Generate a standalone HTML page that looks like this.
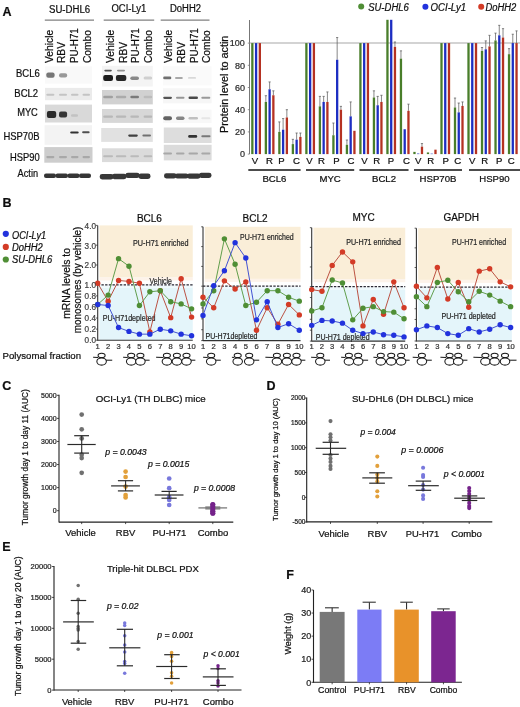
<!DOCTYPE html>
<html><head><meta charset="utf-8"><style>
html,body{margin:0;padding:0;background:#fff;}
svg{display:block;}
text{font-family:"Liberation Sans", sans-serif;}
</style></head><body>
<svg width="520" height="707" viewBox="0 0 520 707">
<defs><filter id="soft" x="0" y="0" width="100%" height="100%"><feGaussianBlur stdDeviation="0.3"/></filter><filter id="bl" x="-20%" y="-60%" width="140%" height="220%"><feGaussianBlur stdDeviation="0.6"/></filter></defs>
<rect width="520" height="707" fill="#fff"/>
<g filter="url(#soft)">
<text x="2.60" y="15.80" font-size="12.5" fill="#111" stroke="#111" stroke-width="0.22" font-weight="bold">A</text>
<text x="49.00" y="12.60" font-size="10" fill="#111" stroke="#111" stroke-width="0.22" textLength="41.20" lengthAdjust="spacingAndGlyphs">SU-DHL6</text>
<text x="111.40" y="12.20" font-size="10" fill="#111" stroke="#111" stroke-width="0.22" textLength="35.00" lengthAdjust="spacingAndGlyphs">OCI-Ly1</text>
<text x="170.00" y="11.90" font-size="10" fill="#111" stroke="#111" stroke-width="0.22" textLength="31.00" lengthAdjust="spacingAndGlyphs">DoHH2</text>
<line x1="44.80" y1="20.10" x2="94.00" y2="20.10" stroke="#808080" stroke-width="1.3"/>
<line x1="103.70" y1="20.20" x2="154.20" y2="20.20" stroke="#808080" stroke-width="1.3"/>
<line x1="160.70" y1="20.20" x2="209.50" y2="20.20" stroke="#808080" stroke-width="1.3"/>
<text x="52.50" y="63.00" font-size="10" fill="#111" stroke="#111" stroke-width="0.22" textLength="33.20" lengthAdjust="spacingAndGlyphs" transform="rotate(-90 52.50 63.00)">Vehicle</text>
<text x="64.80" y="63.00" font-size="10" fill="#111" stroke="#111" stroke-width="0.22" textLength="21.00" lengthAdjust="spacingAndGlyphs" transform="rotate(-90 64.80 63.00)">RBV</text>
<text x="77.50" y="63.00" font-size="10" fill="#111" stroke="#111" stroke-width="0.22" textLength="34.80" lengthAdjust="spacingAndGlyphs" transform="rotate(-90 77.50 63.00)">PU-H71</text>
<text x="90.80" y="63.00" font-size="10" fill="#111" stroke="#111" stroke-width="0.22" textLength="32.80" lengthAdjust="spacingAndGlyphs" transform="rotate(-90 90.80 63.00)">Combo</text>
<text x="113.80" y="63.00" font-size="10" fill="#111" stroke="#111" stroke-width="0.22" textLength="33.20" lengthAdjust="spacingAndGlyphs" transform="rotate(-90 113.80 63.00)">Vehicle</text>
<text x="127.00" y="63.00" font-size="10" fill="#111" stroke="#111" stroke-width="0.22" textLength="21.00" lengthAdjust="spacingAndGlyphs" transform="rotate(-90 127.00 63.00)">RBV</text>
<text x="139.40" y="63.00" font-size="10" fill="#111" stroke="#111" stroke-width="0.22" textLength="34.80" lengthAdjust="spacingAndGlyphs" transform="rotate(-90 139.40 63.00)">PU-H71</text>
<text x="152.00" y="63.00" font-size="10" fill="#111" stroke="#111" stroke-width="0.22" textLength="32.80" lengthAdjust="spacingAndGlyphs" transform="rotate(-90 152.00 63.00)">Combo</text>
<text x="172.20" y="63.00" font-size="10" fill="#111" stroke="#111" stroke-width="0.22" textLength="33.20" lengthAdjust="spacingAndGlyphs" transform="rotate(-90 172.20 63.00)">Vehicle</text>
<text x="184.60" y="63.00" font-size="10" fill="#111" stroke="#111" stroke-width="0.22" textLength="21.00" lengthAdjust="spacingAndGlyphs" transform="rotate(-90 184.60 63.00)">RBV</text>
<text x="197.80" y="63.00" font-size="10" fill="#111" stroke="#111" stroke-width="0.22" textLength="34.80" lengthAdjust="spacingAndGlyphs" transform="rotate(-90 197.80 63.00)">PU-H71</text>
<text x="210.20" y="63.00" font-size="10" fill="#111" stroke="#111" stroke-width="0.22" textLength="32.80" lengthAdjust="spacingAndGlyphs" transform="rotate(-90 210.20 63.00)">Combo</text>
<text x="16.00" y="77.30" font-size="10.2" fill="#111" stroke="#111" stroke-width="0.22" textLength="23.70" lengthAdjust="spacingAndGlyphs">BCL6</text>
<text x="14.30" y="97.30" font-size="10.2" fill="#111" stroke="#111" stroke-width="0.22" textLength="23.80" lengthAdjust="spacingAndGlyphs">BCL2</text>
<text x="17.20" y="115.70" font-size="10.2" fill="#111" stroke="#111" stroke-width="0.22" textLength="20.60" lengthAdjust="spacingAndGlyphs">MYC</text>
<text x="3.40" y="140.00" font-size="10.2" fill="#111" stroke="#111" stroke-width="0.22" textLength="36.20" lengthAdjust="spacingAndGlyphs">HSP70B</text>
<text x="9.90" y="160.50" font-size="10.2" fill="#111" stroke="#111" stroke-width="0.22" textLength="29.70" lengthAdjust="spacingAndGlyphs">HSP90</text>
<text x="17.60" y="177.40" font-size="10.2" fill="#111" stroke="#111" stroke-width="0.22" textLength="20.50" lengthAdjust="spacingAndGlyphs">Actin</text>
<rect x="45.00" y="66.30" width="47.00" height="17.30" fill="#f9f9f9"/>
<rect x="46.30" y="72.60" width="8.30" height="5.20" rx="2.00" fill="#767676" filter="url(#bl)"/>
<rect x="59.00" y="73.20" width="8.20" height="4.20" rx="2.00" fill="#999999" filter="url(#bl)"/>
<rect x="45.00" y="87.90" width="47.00" height="12.30" fill="#ebebeb"/>
<rect x="46.30" y="93.80" width="8.10" height="2.00" rx="1.00" fill="#c4c4c4" filter="url(#bl)"/>
<rect x="59.00" y="93.80" width="8.00" height="2.00" rx="1.00" fill="#c4c4c4" filter="url(#bl)"/>
<rect x="71.00" y="93.80" width="7.50" height="2.00" rx="1.00" fill="#c4c4c4" filter="url(#bl)"/>
<rect x="82.50" y="93.80" width="7.50" height="2.00" rx="1.00" fill="#c4c4c4" filter="url(#bl)"/>
<rect x="45.00" y="104.60" width="47.00" height="17.90" fill="#d9d9d9"/>
<rect x="46.90" y="110.90" width="9.30" height="7.00" rx="2.00" fill="#2a2a2a" filter="url(#bl)"/>
<rect x="59.00" y="111.60" width="8.10" height="6.00" rx="2.00" fill="#363636" filter="url(#bl)"/>
<rect x="71.00" y="114.25" width="7.00" height="2.50" rx="1.25" fill="#c2c2c2" filter="url(#bl)"/>
<rect x="44.60" y="125.20" width="47.40" height="19.60" fill="#f3f3f3"/>
<rect x="70.20" y="131.40" width="8.50" height="2.20" rx="1.10" fill="#303030" filter="url(#bl)"/>
<rect x="82.10" y="131.30" width="7.50" height="2.00" rx="1.00" fill="#505050" filter="url(#bl)"/>
<rect x="44.30" y="147.10" width="48.20" height="15.60" fill="#cdcdcd"/>
<rect x="46.30" y="156.00" width="8.10" height="2.20" rx="1.10" fill="#a8a8a8" filter="url(#bl)"/>
<rect x="59.00" y="156.00" width="8.00" height="2.20" rx="1.10" fill="#a8a8a8" filter="url(#bl)"/>
<rect x="71.00" y="156.00" width="7.50" height="2.20" rx="1.10" fill="#a8a8a8" filter="url(#bl)"/>
<rect x="82.50" y="156.00" width="7.50" height="2.20" rx="1.10" fill="#a8a8a8" filter="url(#bl)"/>
<rect x="44.00" y="173.50" width="12.00" height="4.40" rx="2.00" fill="#363636" filter="url(#bl)"/>
<rect x="55.50" y="173.50" width="12.50" height="4.40" rx="2.00" fill="#363636" filter="url(#bl)"/>
<rect x="67.50" y="173.50" width="12.00" height="4.40" rx="2.00" fill="#363636" filter="url(#bl)"/>
<rect x="79.00" y="173.50" width="12.00" height="4.40" rx="2.00" fill="#363636" filter="url(#bl)"/>
<rect x="102.00" y="65.80" width="50.80" height="20.70" fill="#f4f4f4"/>
<rect x="104.30" y="69.80" width="7.50" height="1.60" rx="0.80" fill="#505050" filter="url(#bl)"/>
<rect x="117.00" y="69.80" width="8.00" height="1.60" rx="0.80" fill="#909090" filter="url(#bl)"/>
<rect x="103.20" y="75.00" width="9.80" height="6.00" rx="2.00" fill="#1e1e1e" filter="url(#bl)"/>
<rect x="115.90" y="75.00" width="10.40" height="6.00" rx="2.00" fill="#262626" filter="url(#bl)"/>
<rect x="130.30" y="76.40" width="8.70" height="3.60" rx="1.80" fill="#888888" filter="url(#bl)"/>
<rect x="143.60" y="76.50" width="8.60" height="3.00" rx="1.50" fill="#cfcfcf" filter="url(#bl)"/>
<rect x="102.00" y="90.00" width="50.80" height="14.40" fill="#d1d1d1"/>
<rect x="103.20" y="95.85" width="9.80" height="2.50" rx="1.25" fill="#a0a0a0" filter="url(#bl)"/>
<rect x="115.90" y="95.85" width="10.40" height="2.50" rx="1.25" fill="#ababab" filter="url(#bl)"/>
<rect x="130.30" y="95.85" width="8.70" height="2.50" rx="1.25" fill="#7a7a7a" filter="url(#bl)"/>
<rect x="143.60" y="95.85" width="8.60" height="2.50" rx="1.25" fill="#bcbcbc" filter="url(#bl)"/>
<rect x="102.00" y="109.00" width="50.80" height="13.90" fill="#d7d7d7"/>
<rect x="103.20" y="115.60" width="9.80" height="2.20" rx="1.10" fill="#b8b8b8" filter="url(#bl)"/>
<rect x="115.90" y="115.60" width="10.40" height="2.20" rx="1.10" fill="#b8b8b8" filter="url(#bl)"/>
<rect x="130.30" y="115.60" width="8.70" height="2.20" rx="1.10" fill="#b8b8b8" filter="url(#bl)"/>
<rect x="143.60" y="115.60" width="8.60" height="2.20" rx="1.10" fill="#b8b8b8" filter="url(#bl)"/>
<rect x="101.20" y="128.00" width="51.60" height="13.90" fill="#e1e1e1"/>
<rect x="128.20" y="134.50" width="9.60" height="2.20" rx="1.10" fill="#404040" filter="url(#bl)"/>
<rect x="142.40" y="134.40" width="8.60" height="2.00" rx="1.00" fill="#707070" filter="url(#bl)"/>
<rect x="102.00" y="148.30" width="50.80" height="13.80" fill="#dbdbdb"/>
<rect x="103.20" y="155.30" width="9.80" height="2.00" rx="1.00" fill="#bababa" filter="url(#bl)"/>
<rect x="115.90" y="155.30" width="10.40" height="2.00" rx="1.00" fill="#bababa" filter="url(#bl)"/>
<rect x="130.30" y="155.30" width="8.70" height="2.00" rx="1.00" fill="#bababa" filter="url(#bl)"/>
<rect x="143.60" y="155.30" width="8.60" height="2.00" rx="1.00" fill="#bababa" filter="url(#bl)"/>
<rect x="99.70" y="174.00" width="13.80" height="5.40" rx="2.40" fill="#383838" filter="url(#bl)"/>
<rect x="112.00" y="173.80" width="14.50" height="5.40" rx="2.40" fill="#383838" filter="url(#bl)"/>
<rect x="125.50" y="172.70" width="14.00" height="5.40" rx="2.40" fill="#383838" filter="url(#bl)"/>
<rect x="138.50" y="173.50" width="12.00" height="5.40" rx="2.40" fill="#383838" filter="url(#bl)"/>
<rect x="163.00" y="66.30" width="48.60" height="19.10" fill="#fafafa"/>
<rect x="163.20" y="76.60" width="8.10" height="2.60" rx="1.30" fill="#707070" filter="url(#bl)"/>
<rect x="175.00" y="76.90" width="7.80" height="2.00" rx="1.00" fill="#a8a8a8" filter="url(#bl)"/>
<rect x="188.00" y="77.00" width="8.00" height="1.80" rx="0.90" fill="#d8d8d8" filter="url(#bl)"/>
<rect x="163.00" y="88.30" width="48.60" height="15.00" fill="#f6f6f6"/>
<rect x="163.20" y="96.65" width="8.80" height="2.30" rx="1.15" fill="#555555" filter="url(#bl)"/>
<rect x="176.00" y="96.80" width="8.50" height="2.00" rx="1.00" fill="#969696" filter="url(#bl)"/>
<rect x="188.50" y="96.50" width="9.50" height="2.60" rx="1.30" fill="#4a4a4a" filter="url(#bl)"/>
<rect x="201.30" y="96.80" width="9.00" height="2.00" rx="1.00" fill="#999999" filter="url(#bl)"/>
<rect x="163.00" y="109.60" width="48.60" height="13.40" fill="#f8f8f8"/>
<rect x="163.20" y="116.20" width="8.80" height="4.00" rx="2.00" fill="#626262" filter="url(#bl)"/>
<rect x="176.00" y="116.50" width="8.50" height="3.40" rx="1.70" fill="#858585" filter="url(#bl)"/>
<rect x="188.50" y="116.90" width="9.50" height="2.60" rx="1.30" fill="#c0c0c0" filter="url(#bl)"/>
<rect x="201.30" y="117.20" width="9.00" height="2.00" rx="1.00" fill="#e6e6e6" filter="url(#bl)"/>
<rect x="163.80" y="127.50" width="47.80" height="15.50" fill="#dddddd"/>
<rect x="188.20" y="135.10" width="9.00" height="2.60" rx="1.30" fill="#303030" filter="url(#bl)"/>
<rect x="201.30" y="135.20" width="9.20" height="2.00" rx="1.00" fill="#777777" filter="url(#bl)"/>
<rect x="163.80" y="144.80" width="47.80" height="15.60" fill="#dbdbdb"/>
<rect x="163.20" y="152.50" width="8.80" height="2.00" rx="1.00" fill="#a8a8a8" filter="url(#bl)"/>
<rect x="176.00" y="152.50" width="8.50" height="2.00" rx="1.00" fill="#a8a8a8" filter="url(#bl)"/>
<rect x="188.50" y="152.50" width="9.50" height="2.00" rx="1.00" fill="#a8a8a8" filter="url(#bl)"/>
<rect x="201.30" y="152.50" width="9.00" height="2.00" rx="1.00" fill="#a8a8a8" filter="url(#bl)"/>
<rect x="164.00" y="173.30" width="12.50" height="5.20" rx="2.40" fill="#383838" filter="url(#bl)"/>
<rect x="175.00" y="173.40" width="13.50" height="5.20" rx="2.40" fill="#383838" filter="url(#bl)"/>
<rect x="187.00" y="173.50" width="13.50" height="5.20" rx="2.40" fill="#383838" filter="url(#bl)"/>
<rect x="199.00" y="172.70" width="12.50" height="5.20" rx="2.40" fill="#383838" filter="url(#bl)"/>
<circle cx="361.20" cy="6.60" r="3" fill="#4f8e34"/>
<circle cx="425.40" cy="6.70" r="3" fill="#2233dd"/>
<circle cx="481.20" cy="6.70" r="3" fill="#d33a26"/>
<text x="368.20" y="10.70" font-size="10" fill="#111" stroke="#111" stroke-width="0.22" font-style="italic" textLength="40.60" lengthAdjust="spacingAndGlyphs">SU-DHL6</text>
<text x="430.60" y="10.50" font-size="10" fill="#111" stroke="#111" stroke-width="0.22" font-style="italic" textLength="35.60" lengthAdjust="spacingAndGlyphs">OCI-Ly1</text>
<text x="485.40" y="10.50" font-size="10" fill="#111" stroke="#111" stroke-width="0.22" font-style="italic" textLength="30.80" lengthAdjust="spacingAndGlyphs">DoHH2</text>
<line x1="249.50" y1="20.00" x2="249.50" y2="154.10" stroke="#777" stroke-width="1"/>
<line x1="249.50" y1="43.00" x2="520.00" y2="43.00" stroke="#a8a8a8" stroke-width="1.1"/>
<line x1="247.80" y1="154.10" x2="249.50" y2="154.10" stroke="#777" stroke-width="0.8"/>
<text x="244.90" y="157.30" font-size="9" text-anchor="end" fill="#2a2a2a" stroke="#2a2a2a" stroke-width="0.22">0</text>
<line x1="247.80" y1="131.90" x2="249.50" y2="131.90" stroke="#777" stroke-width="0.8"/>
<text x="244.90" y="135.10" font-size="9" text-anchor="end" fill="#2a2a2a" stroke="#2a2a2a" stroke-width="0.22">20</text>
<line x1="247.80" y1="109.70" x2="249.50" y2="109.70" stroke="#777" stroke-width="0.8"/>
<text x="244.90" y="112.90" font-size="9" text-anchor="end" fill="#2a2a2a" stroke="#2a2a2a" stroke-width="0.22">40</text>
<line x1="247.80" y1="87.50" x2="249.50" y2="87.50" stroke="#777" stroke-width="0.8"/>
<text x="244.90" y="90.70" font-size="9" text-anchor="end" fill="#2a2a2a" stroke="#2a2a2a" stroke-width="0.22">60</text>
<line x1="247.80" y1="65.30" x2="249.50" y2="65.30" stroke="#777" stroke-width="0.8"/>
<text x="244.90" y="68.50" font-size="9" text-anchor="end" fill="#2a2a2a" stroke="#2a2a2a" stroke-width="0.22">80</text>
<line x1="247.80" y1="43.10" x2="249.50" y2="43.10" stroke="#777" stroke-width="0.8"/>
<text x="244.90" y="46.30" font-size="9" text-anchor="end" fill="#2a2a2a" stroke="#2a2a2a" stroke-width="0.22">100</text>
<text x="228.00" y="84.30" font-size="10" text-anchor="middle" fill="#111" stroke="#111" stroke-width="0.22" textLength="97.40" lengthAdjust="spacingAndGlyphs" transform="rotate(-90 228.00 84.30)">Protein level to actin</text>
<rect x="251.20" y="43.10" width="2.30" height="111.00" fill="#4a7e2c"/>
<rect x="254.95" y="43.10" width="2.30" height="111.00" fill="#1f2fc2"/>
<rect x="258.70" y="43.10" width="2.30" height="111.00" fill="#b53222"/>
<text x="254.90" y="164.00" font-size="9.6" text-anchor="middle" fill="#111" stroke="#111" stroke-width="0.22">V</text>
<line x1="265.86" y1="95.71" x2="265.86" y2="101.93" stroke="#555" stroke-width="0.7"/>
<line x1="264.76" y1="95.71" x2="266.96" y2="95.71" stroke="#555" stroke-width="0.7"/>
<rect x="264.71" y="101.93" width="2.30" height="52.17" fill="#4a7e2c"/>
<line x1="269.61" y1="81.95" x2="269.61" y2="89.28" stroke="#555" stroke-width="0.7"/>
<line x1="268.51" y1="81.95" x2="270.71" y2="81.95" stroke="#555" stroke-width="0.7"/>
<rect x="268.46" y="89.28" width="2.30" height="64.82" fill="#1f2fc2"/>
<line x1="273.36" y1="90.83" x2="273.36" y2="95.27" stroke="#555" stroke-width="0.7"/>
<line x1="272.26" y1="90.83" x2="274.46" y2="90.83" stroke="#555" stroke-width="0.7"/>
<rect x="272.21" y="95.27" width="2.30" height="58.83" fill="#b53222"/>
<text x="269.50" y="164.00" font-size="9.6" text-anchor="middle" fill="#111" stroke="#111" stroke-width="0.22">R</text>
<line x1="279.37" y1="121.91" x2="279.37" y2="131.90" stroke="#555" stroke-width="0.7"/>
<line x1="278.27" y1="121.91" x2="280.47" y2="121.91" stroke="#555" stroke-width="0.7"/>
<rect x="278.22" y="131.90" width="2.30" height="22.20" fill="#4a7e2c"/>
<line x1="283.12" y1="118.58" x2="283.12" y2="129.68" stroke="#555" stroke-width="0.7"/>
<line x1="282.02" y1="118.58" x2="284.22" y2="118.58" stroke="#555" stroke-width="0.7"/>
<rect x="281.97" y="129.68" width="2.30" height="24.42" fill="#1f2fc2"/>
<line x1="286.87" y1="109.70" x2="286.87" y2="117.47" stroke="#555" stroke-width="0.7"/>
<line x1="285.77" y1="109.70" x2="287.97" y2="109.70" stroke="#555" stroke-width="0.7"/>
<rect x="285.72" y="117.47" width="2.30" height="36.63" fill="#b53222"/>
<text x="281.50" y="164.00" font-size="9.6" text-anchor="middle" fill="#111" stroke="#111" stroke-width="0.22">P</text>
<line x1="292.88" y1="139.34" x2="292.88" y2="144.11" stroke="#555" stroke-width="0.7"/>
<line x1="291.78" y1="139.34" x2="293.98" y2="139.34" stroke="#555" stroke-width="0.7"/>
<rect x="291.73" y="144.11" width="2.30" height="9.99" fill="#4a7e2c"/>
<line x1="296.63" y1="133.01" x2="296.63" y2="139.67" stroke="#555" stroke-width="0.7"/>
<line x1="295.53" y1="133.01" x2="297.73" y2="133.01" stroke="#555" stroke-width="0.7"/>
<rect x="295.48" y="139.67" width="2.30" height="14.43" fill="#1f2fc2"/>
<line x1="300.38" y1="133.01" x2="300.38" y2="136.89" stroke="#555" stroke-width="0.7"/>
<line x1="299.28" y1="133.01" x2="301.48" y2="133.01" stroke="#555" stroke-width="0.7"/>
<rect x="299.23" y="136.89" width="2.30" height="17.21" fill="#b53222"/>
<text x="296.50" y="164.00" font-size="9.6" text-anchor="middle" fill="#111" stroke="#111" stroke-width="0.22">C</text>
<rect x="305.24" y="43.10" width="2.30" height="111.00" fill="#4a7e2c"/>
<rect x="308.99" y="43.10" width="2.30" height="111.00" fill="#1f2fc2"/>
<rect x="312.74" y="43.10" width="2.30" height="111.00" fill="#b53222"/>
<text x="309.50" y="164.00" font-size="9.6" text-anchor="middle" fill="#111" stroke="#111" stroke-width="0.22">V</text>
<line x1="319.90" y1="96.38" x2="319.90" y2="106.37" stroke="#555" stroke-width="0.7"/>
<line x1="318.80" y1="96.38" x2="321.00" y2="96.38" stroke="#555" stroke-width="0.7"/>
<rect x="318.75" y="106.37" width="2.30" height="47.73" fill="#4a7e2c"/>
<line x1="323.65" y1="96.38" x2="323.65" y2="101.93" stroke="#555" stroke-width="0.7"/>
<line x1="322.55" y1="96.38" x2="324.75" y2="96.38" stroke="#555" stroke-width="0.7"/>
<rect x="322.50" y="101.93" width="2.30" height="52.17" fill="#1f2fc2"/>
<line x1="327.40" y1="91.94" x2="327.40" y2="101.93" stroke="#555" stroke-width="0.7"/>
<line x1="326.30" y1="91.94" x2="328.50" y2="91.94" stroke="#555" stroke-width="0.7"/>
<rect x="326.25" y="101.93" width="2.30" height="52.17" fill="#b53222"/>
<text x="321.50" y="164.00" font-size="9.6" text-anchor="middle" fill="#111" stroke="#111" stroke-width="0.22">R</text>
<line x1="333.41" y1="123.02" x2="333.41" y2="135.23" stroke="#555" stroke-width="0.7"/>
<line x1="332.31" y1="123.02" x2="334.51" y2="123.02" stroke="#555" stroke-width="0.7"/>
<rect x="332.26" y="135.23" width="2.30" height="18.87" fill="#4a7e2c"/>
<line x1="337.16" y1="37.55" x2="337.16" y2="59.75" stroke="#555" stroke-width="0.7"/>
<line x1="336.06" y1="37.55" x2="338.26" y2="37.55" stroke="#555" stroke-width="0.7"/>
<rect x="336.01" y="59.75" width="2.30" height="94.35" fill="#1f2fc2"/>
<line x1="340.91" y1="106.37" x2="340.91" y2="109.70" stroke="#555" stroke-width="0.7"/>
<line x1="339.81" y1="106.37" x2="342.01" y2="106.37" stroke="#555" stroke-width="0.7"/>
<rect x="339.76" y="109.70" width="2.30" height="44.40" fill="#b53222"/>
<text x="336.50" y="164.00" font-size="9.6" text-anchor="middle" fill="#111" stroke="#111" stroke-width="0.22">P</text>
<line x1="346.92" y1="140.00" x2="346.92" y2="144.78" stroke="#555" stroke-width="0.7"/>
<line x1="345.82" y1="140.00" x2="348.02" y2="140.00" stroke="#555" stroke-width="0.7"/>
<rect x="345.77" y="144.78" width="2.30" height="9.32" fill="#4a7e2c"/>
<line x1="350.67" y1="101.93" x2="350.67" y2="116.36" stroke="#555" stroke-width="0.7"/>
<line x1="349.57" y1="101.93" x2="351.77" y2="101.93" stroke="#555" stroke-width="0.7"/>
<rect x="349.52" y="116.36" width="2.30" height="37.74" fill="#1f2fc2"/>
<rect x="353.27" y="130.79" width="2.30" height="23.31" fill="#b53222"/>
<text x="350.90" y="164.00" font-size="9.6" text-anchor="middle" fill="#111" stroke="#111" stroke-width="0.22">C</text>
<rect x="359.28" y="43.10" width="2.30" height="111.00" fill="#4a7e2c"/>
<rect x="363.03" y="43.10" width="2.30" height="111.00" fill="#1f2fc2"/>
<rect x="366.78" y="43.10" width="2.30" height="111.00" fill="#b53222"/>
<text x="364.50" y="164.00" font-size="9.6" text-anchor="middle" fill="#111" stroke="#111" stroke-width="0.22">V</text>
<line x1="373.94" y1="90.83" x2="373.94" y2="97.49" stroke="#555" stroke-width="0.7"/>
<line x1="372.84" y1="90.83" x2="375.04" y2="90.83" stroke="#555" stroke-width="0.7"/>
<rect x="372.79" y="97.49" width="2.30" height="56.61" fill="#4a7e2c"/>
<line x1="377.69" y1="96.38" x2="377.69" y2="105.26" stroke="#555" stroke-width="0.7"/>
<line x1="376.59" y1="96.38" x2="378.79" y2="96.38" stroke="#555" stroke-width="0.7"/>
<rect x="376.54" y="105.26" width="2.30" height="48.84" fill="#1f2fc2"/>
<line x1="381.44" y1="95.27" x2="381.44" y2="101.93" stroke="#555" stroke-width="0.7"/>
<line x1="380.34" y1="95.27" x2="382.54" y2="95.27" stroke="#555" stroke-width="0.7"/>
<rect x="380.29" y="101.93" width="2.30" height="52.17" fill="#b53222"/>
<text x="376.80" y="164.00" font-size="9.6" text-anchor="middle" fill="#111" stroke="#111" stroke-width="0.22">R</text>
<rect x="386.30" y="19.79" width="2.30" height="134.31" fill="#4a7e2c"/>
<rect x="390.05" y="19.79" width="2.30" height="134.31" fill="#1f2fc2"/>
<line x1="394.95" y1="41.99" x2="394.95" y2="46.87" stroke="#555" stroke-width="0.7"/>
<line x1="393.85" y1="41.99" x2="396.05" y2="41.99" stroke="#555" stroke-width="0.7"/>
<rect x="393.80" y="46.87" width="2.30" height="107.23" fill="#b53222"/>
<text x="390.90" y="164.00" font-size="9.6" text-anchor="middle" fill="#111" stroke="#111" stroke-width="0.22">P</text>
<line x1="400.96" y1="50.87" x2="400.96" y2="58.64" stroke="#555" stroke-width="0.7"/>
<line x1="399.86" y1="50.87" x2="402.06" y2="50.87" stroke="#555" stroke-width="0.7"/>
<rect x="399.81" y="58.64" width="2.30" height="95.46" fill="#4a7e2c"/>
<rect x="403.56" y="129.24" width="2.30" height="24.86" fill="#1f2fc2"/>
<line x1="408.46" y1="104.15" x2="408.46" y2="110.81" stroke="#555" stroke-width="0.7"/>
<line x1="407.36" y1="104.15" x2="409.56" y2="104.15" stroke="#555" stroke-width="0.7"/>
<rect x="407.31" y="110.81" width="2.30" height="43.29" fill="#b53222"/>
<text x="406.50" y="164.00" font-size="9.6" text-anchor="middle" fill="#111" stroke="#111" stroke-width="0.22">C</text>
<rect x="413.32" y="151.88" width="2.30" height="2.22" fill="#4a7e2c"/>
<rect x="417.07" y="153.54" width="2.30" height="0.56" fill="#1f2fc2"/>
<line x1="421.97" y1="143.56" x2="421.97" y2="146.66" stroke="#555" stroke-width="0.7"/>
<line x1="420.87" y1="143.56" x2="423.07" y2="143.56" stroke="#555" stroke-width="0.7"/>
<rect x="420.82" y="146.66" width="2.30" height="7.44" fill="#b53222"/>
<text x="418.20" y="164.00" font-size="9.6" text-anchor="middle" fill="#111" stroke="#111" stroke-width="0.22">V</text>
<rect x="426.83" y="152.44" width="2.30" height="1.66" fill="#4a7e2c"/>
<rect x="430.58" y="153.66" width="2.30" height="0.44" fill="#1f2fc2"/>
<rect x="434.33" y="149.66" width="2.30" height="4.44" fill="#b53222"/>
<text x="430.80" y="164.00" font-size="9.6" text-anchor="middle" fill="#111" stroke="#111" stroke-width="0.22">R</text>
<rect x="440.34" y="43.10" width="2.30" height="111.00" fill="#4a7e2c"/>
<rect x="444.09" y="43.10" width="2.30" height="111.00" fill="#1f2fc2"/>
<rect x="447.84" y="43.10" width="2.30" height="111.00" fill="#b53222"/>
<text x="445.80" y="164.00" font-size="9.6" text-anchor="middle" fill="#111" stroke="#111" stroke-width="0.22">P</text>
<line x1="455.00" y1="98.04" x2="455.00" y2="107.48" stroke="#555" stroke-width="0.7"/>
<line x1="453.90" y1="98.04" x2="456.10" y2="98.04" stroke="#555" stroke-width="0.7"/>
<rect x="453.85" y="107.48" width="2.30" height="46.62" fill="#4a7e2c"/>
<line x1="458.75" y1="103.04" x2="458.75" y2="112.36" stroke="#555" stroke-width="0.7"/>
<line x1="457.65" y1="103.04" x2="459.85" y2="103.04" stroke="#555" stroke-width="0.7"/>
<rect x="457.60" y="112.36" width="2.30" height="41.74" fill="#1f2fc2"/>
<line x1="462.50" y1="101.93" x2="462.50" y2="105.93" stroke="#555" stroke-width="0.7"/>
<line x1="461.40" y1="101.93" x2="463.60" y2="101.93" stroke="#555" stroke-width="0.7"/>
<rect x="461.35" y="105.93" width="2.30" height="48.17" fill="#b53222"/>
<text x="457.70" y="164.00" font-size="9.6" text-anchor="middle" fill="#111" stroke="#111" stroke-width="0.22">C</text>
<rect x="467.36" y="43.10" width="2.30" height="111.00" fill="#4a7e2c"/>
<rect x="471.11" y="43.10" width="2.30" height="111.00" fill="#1f2fc2"/>
<rect x="474.86" y="43.10" width="2.30" height="111.00" fill="#b53222"/>
<text x="472.30" y="164.00" font-size="9.6" text-anchor="middle" fill="#111" stroke="#111" stroke-width="0.22">V</text>
<line x1="482.02" y1="47.54" x2="482.02" y2="50.87" stroke="#555" stroke-width="0.7"/>
<line x1="480.92" y1="47.54" x2="483.12" y2="47.54" stroke="#555" stroke-width="0.7"/>
<rect x="480.87" y="50.87" width="2.30" height="103.23" fill="#4a7e2c"/>
<line x1="485.77" y1="40.88" x2="485.77" y2="49.32" stroke="#555" stroke-width="0.7"/>
<line x1="484.67" y1="40.88" x2="486.87" y2="40.88" stroke="#555" stroke-width="0.7"/>
<rect x="484.62" y="49.32" width="2.30" height="104.78" fill="#1f2fc2"/>
<line x1="489.52" y1="35.33" x2="489.52" y2="46.43" stroke="#555" stroke-width="0.7"/>
<line x1="488.42" y1="35.33" x2="490.62" y2="35.33" stroke="#555" stroke-width="0.7"/>
<rect x="488.37" y="46.43" width="2.30" height="107.67" fill="#b53222"/>
<text x="484.60" y="164.00" font-size="9.6" text-anchor="middle" fill="#111" stroke="#111" stroke-width="0.22">R</text>
<line x1="495.53" y1="33.11" x2="495.53" y2="40.44" stroke="#555" stroke-width="0.7"/>
<line x1="494.43" y1="33.11" x2="496.63" y2="33.11" stroke="#555" stroke-width="0.7"/>
<rect x="494.38" y="40.44" width="2.30" height="113.66" fill="#4a7e2c"/>
<line x1="499.28" y1="25.34" x2="499.28" y2="35.33" stroke="#555" stroke-width="0.7"/>
<line x1="498.18" y1="25.34" x2="500.38" y2="25.34" stroke="#555" stroke-width="0.7"/>
<rect x="498.13" y="35.33" width="2.30" height="118.77" fill="#1f2fc2"/>
<line x1="503.03" y1="28.67" x2="503.03" y2="37.55" stroke="#555" stroke-width="0.7"/>
<line x1="501.93" y1="28.67" x2="504.13" y2="28.67" stroke="#555" stroke-width="0.7"/>
<rect x="501.88" y="37.55" width="2.30" height="116.55" fill="#b53222"/>
<text x="499.20" y="164.00" font-size="9.6" text-anchor="middle" fill="#111" stroke="#111" stroke-width="0.22">P</text>
<line x1="509.04" y1="48.65" x2="509.04" y2="54.20" stroke="#555" stroke-width="0.7"/>
<line x1="507.94" y1="48.65" x2="510.14" y2="48.65" stroke="#555" stroke-width="0.7"/>
<rect x="507.89" y="54.20" width="2.30" height="99.90" fill="#4a7e2c"/>
<line x1="512.79" y1="34.22" x2="512.79" y2="43.10" stroke="#555" stroke-width="0.7"/>
<line x1="511.69" y1="34.22" x2="513.89" y2="34.22" stroke="#555" stroke-width="0.7"/>
<rect x="511.64" y="43.10" width="2.30" height="111.00" fill="#1f2fc2"/>
<line x1="516.54" y1="30.89" x2="516.54" y2="43.10" stroke="#555" stroke-width="0.7"/>
<line x1="515.44" y1="30.89" x2="517.64" y2="30.89" stroke="#555" stroke-width="0.7"/>
<rect x="515.39" y="43.10" width="2.30" height="111.00" fill="#b53222"/>
<text x="511.10" y="164.00" font-size="9.6" text-anchor="middle" fill="#111" stroke="#111" stroke-width="0.22">C</text>
<line x1="248.30" y1="170.00" x2="300.60" y2="170.00" stroke="#111" stroke-width="1.6"/>
<text x="274.45" y="181.60" font-size="9.6" text-anchor="middle" fill="#111" stroke="#111" stroke-width="0.22">BCL6</text>
<line x1="306.00" y1="170.00" x2="354.20" y2="170.00" stroke="#111" stroke-width="1.6"/>
<text x="330.10" y="181.60" font-size="9.6" text-anchor="middle" fill="#111" stroke="#111" stroke-width="0.22">MYC</text>
<line x1="359.50" y1="170.00" x2="408.50" y2="170.00" stroke="#111" stroke-width="1.6"/>
<text x="384.00" y="181.60" font-size="9.6" text-anchor="middle" fill="#111" stroke="#111" stroke-width="0.22">BCL2</text>
<line x1="414.00" y1="170.00" x2="462.00" y2="170.00" stroke="#111" stroke-width="1.6"/>
<text x="438.00" y="181.60" font-size="9.6" text-anchor="middle" fill="#111" stroke="#111" stroke-width="0.22">HSP70B</text>
<line x1="469.00" y1="170.00" x2="520.00" y2="170.00" stroke="#111" stroke-width="1.6"/>
<text x="494.50" y="181.60" font-size="9.6" text-anchor="middle" fill="#111" stroke="#111" stroke-width="0.22">HSP90</text>
<text x="2.60" y="206.90" font-size="12.5" fill="#111" stroke="#111" stroke-width="0.22" font-weight="bold">B</text>
<circle cx="5.80" cy="233.80" r="3.1" fill="#2233dd"/>
<circle cx="5.80" cy="246.90" r="3.1" fill="#d33a26"/>
<circle cx="5.80" cy="259.50" r="3.1" fill="#4f8e34"/>
<text x="12.00" y="238.50" font-size="10" fill="#111" stroke="#111" stroke-width="0.22" font-style="italic" textLength="34.20" lengthAdjust="spacingAndGlyphs">OCI-Ly1</text>
<text x="12.00" y="250.80" font-size="10" fill="#111" stroke="#111" stroke-width="0.22" font-style="italic" textLength="30.80" lengthAdjust="spacingAndGlyphs">DoHH2</text>
<text x="12.00" y="263.00" font-size="10" fill="#111" stroke="#111" stroke-width="0.22" font-style="italic" textLength="40.30" lengthAdjust="spacingAndGlyphs">SU-DHL6</text>
<text x="70.40" y="283.40" font-size="10" text-anchor="middle" fill="#111" stroke="#111" stroke-width="0.22" textLength="70.80" lengthAdjust="spacingAndGlyphs" transform="rotate(-90 70.40 283.40)">mRNA levels to</text>
<text x="80.60" y="279.90" font-size="10" text-anchor="middle" fill="#111" stroke="#111" stroke-width="0.22" textLength="106.50" lengthAdjust="spacingAndGlyphs" transform="rotate(-90 80.60 279.90)">monosomes (by vehicle)</text>
<rect x="99.50" y="225.40" width="93.27" height="52.10" fill="#faeed8"/>
<rect x="99.50" y="287.60" width="93.27" height="52.60" fill="#e4f5fa"/>
<rect x="99.50" y="277.50" width="93.27" height="3.00" fill="#fdf3ea"/>
<rect x="99.50" y="285.60" width="93.27" height="2.00" fill="#eef8fc"/>
<line x1="97.70" y1="225.40" x2="97.70" y2="340.70" stroke="#333" stroke-width="1.1"/>
<line x1="97.70" y1="340.20" x2="192.77" y2="340.20" stroke="#333" stroke-width="1.1"/>
<line x1="95.90" y1="340.20" x2="97.70" y2="340.20" stroke="#333" stroke-width="0.8"/>
<line x1="95.90" y1="329.12" x2="97.70" y2="329.12" stroke="#333" stroke-width="0.8"/>
<line x1="95.90" y1="318.04" x2="97.70" y2="318.04" stroke="#333" stroke-width="0.8"/>
<line x1="95.90" y1="306.96" x2="97.70" y2="306.96" stroke="#333" stroke-width="0.8"/>
<line x1="95.90" y1="295.88" x2="97.70" y2="295.88" stroke="#333" stroke-width="0.8"/>
<line x1="95.90" y1="284.80" x2="97.70" y2="284.80" stroke="#333" stroke-width="0.8"/>
<line x1="95.90" y1="265.00" x2="97.70" y2="265.00" stroke="#333" stroke-width="0.8"/>
<line x1="95.90" y1="245.20" x2="97.70" y2="245.20" stroke="#333" stroke-width="0.8"/>
<line x1="95.90" y1="225.40" x2="97.70" y2="225.40" stroke="#333" stroke-width="0.8"/>
<line x1="97.70" y1="284.80" x2="192.77" y2="284.80" stroke="#2a2a35" stroke-width="1.3" stroke-dasharray="2.4,1.3"/>
<text x="149.40" y="222.00" font-size="10" text-anchor="middle" fill="#111" stroke="#111" stroke-width="0.22">BCL6</text>
<text x="97.70" y="349.30" font-size="7.6" text-anchor="middle" fill="#333" stroke="#333" stroke-width="0.22">1</text>
<text x="108.13" y="349.30" font-size="7.6" text-anchor="middle" fill="#333" stroke="#333" stroke-width="0.22">2</text>
<text x="118.56" y="349.30" font-size="7.6" text-anchor="middle" fill="#333" stroke="#333" stroke-width="0.22">3</text>
<text x="128.99" y="349.30" font-size="7.6" text-anchor="middle" fill="#333" stroke="#333" stroke-width="0.22">4</text>
<text x="139.42" y="349.30" font-size="7.6" text-anchor="middle" fill="#333" stroke="#333" stroke-width="0.22">5</text>
<text x="149.85" y="349.30" font-size="7.6" text-anchor="middle" fill="#333" stroke="#333" stroke-width="0.22">6</text>
<text x="160.28" y="349.30" font-size="7.6" text-anchor="middle" fill="#333" stroke="#333" stroke-width="0.22">7</text>
<text x="170.71" y="349.30" font-size="7.6" text-anchor="middle" fill="#333" stroke="#333" stroke-width="0.22">8</text>
<text x="181.14" y="349.30" font-size="7.6" text-anchor="middle" fill="#333" stroke="#333" stroke-width="0.22">9</text>
<text x="191.57" y="349.30" font-size="7.6" text-anchor="middle" fill="#333" stroke="#333" stroke-width="0.22">10</text>
<text x="160.75" y="245.60" font-size="9.0" text-anchor="middle" fill="#262626" stroke="#262626" stroke-width="0.22" textLength="55.50" lengthAdjust="spacingAndGlyphs">PU-H71 enriched</text>
<text x="102.70" y="320.60" font-size="9.0" fill="#262626" stroke="#262626" stroke-width="0.22" textLength="52.90" lengthAdjust="spacingAndGlyphs">PU-H71depleted</text>
<text x="149.50" y="284.00" font-size="9.4" fill="#262626" stroke="#262626" stroke-width="0.22" textLength="22.50" lengthAdjust="spacingAndGlyphs">Vehicle</text>
<polyline points="97.70,283.22 108.13,301.15 118.56,280.45 128.99,281.44 139.42,283.22 149.85,331.95 160.28,290.70 170.71,317.65 181.14,278.67 191.57,317.10" fill="none" stroke="#b84a3a" stroke-width="0.95"/>
<circle cx="97.70" cy="283.22" r="2.7" fill="#d33a26"/>
<circle cx="108.13" cy="301.15" r="2.7" fill="#d33a26"/>
<circle cx="118.56" cy="280.45" r="2.7" fill="#d33a26"/>
<circle cx="128.99" cy="281.44" r="2.7" fill="#d33a26"/>
<circle cx="139.42" cy="283.22" r="2.7" fill="#d33a26"/>
<circle cx="149.85" cy="331.95" r="2.7" fill="#d33a26"/>
<circle cx="160.28" cy="290.70" r="2.7" fill="#d33a26"/>
<circle cx="170.71" cy="317.65" r="2.7" fill="#d33a26"/>
<circle cx="181.14" cy="278.67" r="2.7" fill="#d33a26"/>
<circle cx="191.57" cy="317.10" r="2.7" fill="#d33a26"/>
<polyline points="97.70,304.45 108.13,295.10 118.56,258.67 128.99,266.19 139.42,305.55 149.85,291.80 160.28,290.70 170.71,301.70 181.14,303.90 191.57,308.85" fill="none" stroke="#5a9a45" stroke-width="0.95"/>
<circle cx="97.70" cy="304.45" r="2.7" fill="#4f8e34"/>
<circle cx="108.13" cy="295.10" r="2.7" fill="#4f8e34"/>
<circle cx="118.56" cy="258.67" r="2.7" fill="#4f8e34"/>
<circle cx="128.99" cy="266.19" r="2.7" fill="#4f8e34"/>
<circle cx="139.42" cy="305.55" r="2.7" fill="#4f8e34"/>
<circle cx="149.85" cy="291.80" r="2.7" fill="#4f8e34"/>
<circle cx="160.28" cy="290.70" r="2.7" fill="#4f8e34"/>
<circle cx="170.71" cy="301.70" r="2.7" fill="#4f8e34"/>
<circle cx="181.14" cy="303.90" r="2.7" fill="#4f8e34"/>
<circle cx="191.57" cy="308.85" r="2.7" fill="#4f8e34"/>
<polyline points="97.70,304.45 108.13,305.55 118.56,327.55 128.99,331.40 139.42,334.15 149.85,334.15 160.28,329.20 170.71,330.85 181.14,334.15 191.57,335.80" fill="none" stroke="#3a4ad0" stroke-width="0.95"/>
<circle cx="97.70" cy="304.45" r="2.7" fill="#2233dd"/>
<circle cx="108.13" cy="305.55" r="2.7" fill="#2233dd"/>
<circle cx="118.56" cy="327.55" r="2.7" fill="#2233dd"/>
<circle cx="128.99" cy="331.40" r="2.7" fill="#2233dd"/>
<circle cx="139.42" cy="334.15" r="2.7" fill="#2233dd"/>
<circle cx="149.85" cy="334.15" r="2.7" fill="#2233dd"/>
<circle cx="160.28" cy="329.20" r="2.7" fill="#2233dd"/>
<circle cx="170.71" cy="330.85" r="2.7" fill="#2233dd"/>
<circle cx="181.14" cy="334.15" r="2.7" fill="#2233dd"/>
<circle cx="191.57" cy="335.80" r="2.7" fill="#2233dd"/>
<line x1="93.10" y1="357.30" x2="98.10" y2="357.50" stroke="#1a1a1a" stroke-width="1.05"/>
<line x1="105.60" y1="360.20" x2="112.20" y2="360.20" stroke="#1a1a1a" stroke-width="1.05"/>
<ellipse cx="101.60" cy="361.50" rx="4.75" ry="3.6" fill="#fff" stroke="#1a1a1a" stroke-width="1.05"/>
<ellipse cx="101.60" cy="355.40" rx="3.5" ry="2.1" fill="#fff" stroke="#1a1a1a" stroke-width="1.05"/>
<line x1="123.10" y1="357.30" x2="127.70" y2="357.50" stroke="#1a1a1a" stroke-width="1.05"/>
<line x1="144.40" y1="360.20" x2="149.60" y2="360.20" stroke="#1a1a1a" stroke-width="1.05"/>
<ellipse cx="131.20" cy="361.50" rx="4.75" ry="3.6" fill="#fff" stroke="#1a1a1a" stroke-width="1.05"/>
<ellipse cx="131.20" cy="355.40" rx="3.5" ry="2.1" fill="#fff" stroke="#1a1a1a" stroke-width="1.05"/>
<ellipse cx="140.40" cy="361.50" rx="4.75" ry="3.6" fill="#fff" stroke="#1a1a1a" stroke-width="1.05"/>
<ellipse cx="140.40" cy="355.40" rx="3.5" ry="2.1" fill="#fff" stroke="#1a1a1a" stroke-width="1.05"/>
<line x1="156.10" y1="357.30" x2="163.40" y2="357.50" stroke="#1a1a1a" stroke-width="1.05"/>
<line x1="190.50" y1="360.20" x2="195.30" y2="360.20" stroke="#1a1a1a" stroke-width="1.05"/>
<ellipse cx="166.90" cy="361.50" rx="4.75" ry="3.6" fill="#fff" stroke="#1a1a1a" stroke-width="1.05"/>
<ellipse cx="166.90" cy="355.40" rx="3.5" ry="2.1" fill="#fff" stroke="#1a1a1a" stroke-width="1.05"/>
<ellipse cx="176.90" cy="361.50" rx="4.75" ry="3.6" fill="#fff" stroke="#1a1a1a" stroke-width="1.05"/>
<ellipse cx="176.90" cy="355.40" rx="3.5" ry="2.1" fill="#fff" stroke="#1a1a1a" stroke-width="1.05"/>
<ellipse cx="186.50" cy="361.50" rx="4.75" ry="3.6" fill="#fff" stroke="#1a1a1a" stroke-width="1.05"/>
<ellipse cx="186.50" cy="355.40" rx="3.5" ry="2.1" fill="#fff" stroke="#1a1a1a" stroke-width="1.05"/>
<rect x="204.80" y="226.80" width="95.70" height="52.10" fill="#faeed8"/>
<rect x="204.80" y="289.00" width="95.70" height="51.60" fill="#e4f5fa"/>
<rect x="204.80" y="278.90" width="95.70" height="3.00" fill="#fdf3ea"/>
<rect x="204.80" y="287.00" width="95.70" height="2.00" fill="#eef8fc"/>
<line x1="203.00" y1="226.80" x2="203.00" y2="341.10" stroke="#333" stroke-width="1.1"/>
<line x1="203.00" y1="340.60" x2="300.50" y2="340.60" stroke="#333" stroke-width="1.1"/>
<line x1="201.20" y1="340.60" x2="203.00" y2="340.60" stroke="#333" stroke-width="0.8"/>
<line x1="201.20" y1="329.72" x2="203.00" y2="329.72" stroke="#333" stroke-width="0.8"/>
<line x1="201.20" y1="318.84" x2="203.00" y2="318.84" stroke="#333" stroke-width="0.8"/>
<line x1="201.20" y1="307.96" x2="203.00" y2="307.96" stroke="#333" stroke-width="0.8"/>
<line x1="201.20" y1="297.08" x2="203.00" y2="297.08" stroke="#333" stroke-width="0.8"/>
<line x1="201.20" y1="286.20" x2="203.00" y2="286.20" stroke="#333" stroke-width="0.8"/>
<line x1="201.20" y1="266.40" x2="203.00" y2="266.40" stroke="#333" stroke-width="0.8"/>
<line x1="201.20" y1="246.60" x2="203.00" y2="246.60" stroke="#333" stroke-width="0.8"/>
<line x1="201.20" y1="226.80" x2="203.00" y2="226.80" stroke="#333" stroke-width="0.8"/>
<line x1="203.00" y1="286.20" x2="300.50" y2="286.20" stroke="#2a2a35" stroke-width="1.3" stroke-dasharray="2.4,1.3"/>
<text x="255.00" y="222.00" font-size="10" text-anchor="middle" fill="#111" stroke="#111" stroke-width="0.22">BCL2</text>
<text x="203.00" y="349.30" font-size="7.6" text-anchor="middle" fill="#333" stroke="#333" stroke-width="0.22">1</text>
<text x="213.70" y="349.30" font-size="7.6" text-anchor="middle" fill="#333" stroke="#333" stroke-width="0.22">2</text>
<text x="224.40" y="349.30" font-size="7.6" text-anchor="middle" fill="#333" stroke="#333" stroke-width="0.22">3</text>
<text x="235.10" y="349.30" font-size="7.6" text-anchor="middle" fill="#333" stroke="#333" stroke-width="0.22">4</text>
<text x="245.80" y="349.30" font-size="7.6" text-anchor="middle" fill="#333" stroke="#333" stroke-width="0.22">5</text>
<text x="256.50" y="349.30" font-size="7.6" text-anchor="middle" fill="#333" stroke="#333" stroke-width="0.22">6</text>
<text x="267.20" y="349.30" font-size="7.6" text-anchor="middle" fill="#333" stroke="#333" stroke-width="0.22">7</text>
<text x="277.90" y="349.30" font-size="7.6" text-anchor="middle" fill="#333" stroke="#333" stroke-width="0.22">8</text>
<text x="288.60" y="349.30" font-size="7.6" text-anchor="middle" fill="#333" stroke="#333" stroke-width="0.22">9</text>
<text x="299.30" y="349.30" font-size="7.6" text-anchor="middle" fill="#333" stroke="#333" stroke-width="0.22">10</text>
<text x="266.90" y="240.30" font-size="9.0" text-anchor="middle" fill="#262626" stroke="#262626" stroke-width="0.22" textLength="53.70" lengthAdjust="spacingAndGlyphs">PU-H71 enriched</text>
<text x="205.50" y="338.70" font-size="9.0" fill="#262626" stroke="#262626" stroke-width="0.22" textLength="52.00" lengthAdjust="spacingAndGlyphs">PU-H71depleted</text>
<polyline points="203.00,297.30 213.70,307.75 224.40,280.84 235.10,289.05 245.80,282.03 256.50,330.30 267.20,307.75 277.90,324.25 288.60,304.45 299.30,314.90" fill="none" stroke="#b84a3a" stroke-width="0.95"/>
<circle cx="203.00" cy="297.30" r="2.7" fill="#d33a26"/>
<circle cx="213.70" cy="307.75" r="2.7" fill="#d33a26"/>
<circle cx="224.40" cy="280.84" r="2.7" fill="#d33a26"/>
<circle cx="235.10" cy="289.05" r="2.7" fill="#d33a26"/>
<circle cx="245.80" cy="282.03" r="2.7" fill="#d33a26"/>
<circle cx="256.50" cy="330.30" r="2.7" fill="#d33a26"/>
<circle cx="267.20" cy="307.75" r="2.7" fill="#d33a26"/>
<circle cx="277.90" cy="324.25" r="2.7" fill="#d33a26"/>
<circle cx="288.60" cy="304.45" r="2.7" fill="#d33a26"/>
<circle cx="299.30" cy="314.90" r="2.7" fill="#d33a26"/>
<polyline points="203.00,303.90 213.70,290.70 224.40,238.87 235.10,264.21 245.80,305.55 256.50,302.25 267.20,290.70 277.90,290.70 288.60,297.30 299.30,301.15" fill="none" stroke="#5a9a45" stroke-width="0.95"/>
<circle cx="203.00" cy="303.90" r="2.7" fill="#4f8e34"/>
<circle cx="213.70" cy="290.70" r="2.7" fill="#4f8e34"/>
<circle cx="224.40" cy="238.87" r="2.7" fill="#4f8e34"/>
<circle cx="235.10" cy="264.21" r="2.7" fill="#4f8e34"/>
<circle cx="245.80" cy="305.55" r="2.7" fill="#4f8e34"/>
<circle cx="256.50" cy="302.25" r="2.7" fill="#4f8e34"/>
<circle cx="267.20" cy="290.70" r="2.7" fill="#4f8e34"/>
<circle cx="277.90" cy="290.70" r="2.7" fill="#4f8e34"/>
<circle cx="288.60" cy="297.30" r="2.7" fill="#4f8e34"/>
<circle cx="299.30" cy="301.15" r="2.7" fill="#4f8e34"/>
<polyline points="203.00,315.45 213.70,285.75 224.40,270.75 235.10,242.63 245.80,258.07 256.50,319.85 267.20,301.70 277.90,327.55 288.60,323.70 299.30,330.30" fill="none" stroke="#3a4ad0" stroke-width="0.95"/>
<circle cx="203.00" cy="315.45" r="2.7" fill="#2233dd"/>
<circle cx="213.70" cy="285.75" r="2.7" fill="#2233dd"/>
<circle cx="224.40" cy="270.75" r="2.7" fill="#2233dd"/>
<circle cx="235.10" cy="242.63" r="2.7" fill="#2233dd"/>
<circle cx="245.80" cy="258.07" r="2.7" fill="#2233dd"/>
<circle cx="256.50" cy="319.85" r="2.7" fill="#2233dd"/>
<circle cx="267.20" cy="301.70" r="2.7" fill="#2233dd"/>
<circle cx="277.90" cy="327.55" r="2.7" fill="#2233dd"/>
<circle cx="288.60" cy="323.70" r="2.7" fill="#2233dd"/>
<circle cx="299.30" cy="330.30" r="2.7" fill="#2233dd"/>
<line x1="203.10" y1="357.30" x2="207.70" y2="357.50" stroke="#1a1a1a" stroke-width="1.05"/>
<line x1="215.20" y1="360.20" x2="220.80" y2="360.20" stroke="#1a1a1a" stroke-width="1.05"/>
<ellipse cx="211.20" cy="361.50" rx="4.75" ry="3.6" fill="#fff" stroke="#1a1a1a" stroke-width="1.05"/>
<ellipse cx="211.20" cy="355.40" rx="3.5" ry="2.1" fill="#fff" stroke="#1a1a1a" stroke-width="1.05"/>
<line x1="231.90" y1="357.30" x2="234.20" y2="357.50" stroke="#1a1a1a" stroke-width="1.05"/>
<line x1="253.20" y1="360.20" x2="259.20" y2="360.20" stroke="#1a1a1a" stroke-width="1.05"/>
<ellipse cx="237.70" cy="361.50" rx="4.75" ry="3.6" fill="#fff" stroke="#1a1a1a" stroke-width="1.05"/>
<ellipse cx="237.70" cy="355.40" rx="3.5" ry="2.1" fill="#fff" stroke="#1a1a1a" stroke-width="1.05"/>
<ellipse cx="249.20" cy="361.50" rx="4.75" ry="3.6" fill="#fff" stroke="#1a1a1a" stroke-width="1.05"/>
<ellipse cx="249.20" cy="355.40" rx="3.5" ry="2.1" fill="#fff" stroke="#1a1a1a" stroke-width="1.05"/>
<line x1="265.40" y1="357.30" x2="273.40" y2="357.50" stroke="#1a1a1a" stroke-width="1.05"/>
<line x1="300.50" y1="360.20" x2="305.30" y2="360.20" stroke="#1a1a1a" stroke-width="1.05"/>
<ellipse cx="276.90" cy="361.50" rx="4.75" ry="3.6" fill="#fff" stroke="#1a1a1a" stroke-width="1.05"/>
<ellipse cx="276.90" cy="355.40" rx="3.5" ry="2.1" fill="#fff" stroke="#1a1a1a" stroke-width="1.05"/>
<ellipse cx="286.90" cy="361.50" rx="4.75" ry="3.6" fill="#fff" stroke="#1a1a1a" stroke-width="1.05"/>
<ellipse cx="286.90" cy="355.40" rx="3.5" ry="2.1" fill="#fff" stroke="#1a1a1a" stroke-width="1.05"/>
<ellipse cx="296.50" cy="361.50" rx="4.75" ry="3.6" fill="#fff" stroke="#1a1a1a" stroke-width="1.05"/>
<ellipse cx="296.50" cy="355.40" rx="3.5" ry="2.1" fill="#fff" stroke="#1a1a1a" stroke-width="1.05"/>
<rect x="313.50" y="227.70" width="91.74" height="51.60" fill="#faeed8"/>
<rect x="313.50" y="289.40" width="91.74" height="51.70" fill="#e4f5fa"/>
<rect x="313.50" y="279.30" width="91.74" height="3.00" fill="#fdf3ea"/>
<rect x="313.50" y="287.40" width="91.74" height="2.00" fill="#eef8fc"/>
<line x1="311.70" y1="227.70" x2="311.70" y2="341.60" stroke="#333" stroke-width="1.1"/>
<line x1="311.70" y1="341.10" x2="405.24" y2="341.10" stroke="#333" stroke-width="1.1"/>
<line x1="309.90" y1="341.10" x2="311.70" y2="341.10" stroke="#333" stroke-width="0.8"/>
<line x1="309.90" y1="330.20" x2="311.70" y2="330.20" stroke="#333" stroke-width="0.8"/>
<line x1="309.90" y1="319.30" x2="311.70" y2="319.30" stroke="#333" stroke-width="0.8"/>
<line x1="309.90" y1="308.40" x2="311.70" y2="308.40" stroke="#333" stroke-width="0.8"/>
<line x1="309.90" y1="297.50" x2="311.70" y2="297.50" stroke="#333" stroke-width="0.8"/>
<line x1="309.90" y1="286.60" x2="311.70" y2="286.60" stroke="#333" stroke-width="0.8"/>
<line x1="309.90" y1="266.97" x2="311.70" y2="266.97" stroke="#333" stroke-width="0.8"/>
<line x1="309.90" y1="247.33" x2="311.70" y2="247.33" stroke="#333" stroke-width="0.8"/>
<line x1="309.90" y1="227.70" x2="311.70" y2="227.70" stroke="#333" stroke-width="0.8"/>
<line x1="311.70" y1="286.60" x2="405.24" y2="286.60" stroke="#2a2a35" stroke-width="1.3" stroke-dasharray="2.4,1.3"/>
<text x="363.50" y="221.00" font-size="10" text-anchor="middle" fill="#111" stroke="#111" stroke-width="0.22">MYC</text>
<text x="311.70" y="349.30" font-size="7.6" text-anchor="middle" fill="#333" stroke="#333" stroke-width="0.22">1</text>
<text x="321.96" y="349.30" font-size="7.6" text-anchor="middle" fill="#333" stroke="#333" stroke-width="0.22">2</text>
<text x="332.22" y="349.30" font-size="7.6" text-anchor="middle" fill="#333" stroke="#333" stroke-width="0.22">3</text>
<text x="342.48" y="349.30" font-size="7.6" text-anchor="middle" fill="#333" stroke="#333" stroke-width="0.22">4</text>
<text x="352.74" y="349.30" font-size="7.6" text-anchor="middle" fill="#333" stroke="#333" stroke-width="0.22">5</text>
<text x="363.00" y="349.30" font-size="7.6" text-anchor="middle" fill="#333" stroke="#333" stroke-width="0.22">6</text>
<text x="373.26" y="349.30" font-size="7.6" text-anchor="middle" fill="#333" stroke="#333" stroke-width="0.22">7</text>
<text x="383.52" y="349.30" font-size="7.6" text-anchor="middle" fill="#333" stroke="#333" stroke-width="0.22">8</text>
<text x="393.78" y="349.30" font-size="7.6" text-anchor="middle" fill="#333" stroke="#333" stroke-width="0.22">9</text>
<text x="404.04" y="349.30" font-size="7.6" text-anchor="middle" fill="#333" stroke="#333" stroke-width="0.22">10</text>
<text x="373.60" y="244.60" font-size="9.0" text-anchor="middle" fill="#262626" stroke="#262626" stroke-width="0.22" textLength="54.90" lengthAdjust="spacingAndGlyphs">PU-H71 enriched</text>
<text x="315.70" y="339.60" font-size="9.0" fill="#262626" stroke="#262626" stroke-width="0.22" textLength="54.00" lengthAdjust="spacingAndGlyphs">PU-H71 depleted</text>
<polyline points="311.70,289.60 321.96,291.25 332.22,265.40 342.48,251.94 352.74,261.84 363.00,325.90 373.26,299.50 383.52,314.35 393.78,281.83 404.04,307.75" fill="none" stroke="#b84a3a" stroke-width="0.95"/>
<circle cx="311.70" cy="289.60" r="2.7" fill="#d33a26"/>
<circle cx="321.96" cy="291.25" r="2.7" fill="#d33a26"/>
<circle cx="332.22" cy="265.40" r="2.7" fill="#d33a26"/>
<circle cx="342.48" cy="251.94" r="2.7" fill="#d33a26"/>
<circle cx="352.74" cy="261.84" r="2.7" fill="#d33a26"/>
<circle cx="363.00" cy="325.90" r="2.7" fill="#d33a26"/>
<circle cx="373.26" cy="299.50" r="2.7" fill="#d33a26"/>
<circle cx="383.52" cy="314.35" r="2.7" fill="#d33a26"/>
<circle cx="393.78" cy="281.83" r="2.7" fill="#d33a26"/>
<circle cx="404.04" cy="307.75" r="2.7" fill="#d33a26"/>
<polyline points="311.70,311.05 321.96,307.75 332.22,280.05 342.48,283.02 352.74,319.85 363.00,308.30 373.26,306.65 383.52,311.60 393.78,312.15 404.04,318.75" fill="none" stroke="#5a9a45" stroke-width="0.95"/>
<circle cx="311.70" cy="311.05" r="2.7" fill="#4f8e34"/>
<circle cx="321.96" cy="307.75" r="2.7" fill="#4f8e34"/>
<circle cx="332.22" cy="280.05" r="2.7" fill="#4f8e34"/>
<circle cx="342.48" cy="283.02" r="2.7" fill="#4f8e34"/>
<circle cx="352.74" cy="319.85" r="2.7" fill="#4f8e34"/>
<circle cx="363.00" cy="308.30" r="2.7" fill="#4f8e34"/>
<circle cx="373.26" cy="306.65" r="2.7" fill="#4f8e34"/>
<circle cx="383.52" cy="311.60" r="2.7" fill="#4f8e34"/>
<circle cx="393.78" cy="312.15" r="2.7" fill="#4f8e34"/>
<circle cx="404.04" cy="318.75" r="2.7" fill="#4f8e34"/>
<polyline points="311.70,325.35 321.96,320.40 332.22,320.95 342.48,323.15 352.74,330.30 363.00,333.60 373.26,331.95 383.52,334.70 393.78,335.25 404.04,336.90" fill="none" stroke="#3a4ad0" stroke-width="0.95"/>
<circle cx="311.70" cy="325.35" r="2.7" fill="#2233dd"/>
<circle cx="321.96" cy="320.40" r="2.7" fill="#2233dd"/>
<circle cx="332.22" cy="320.95" r="2.7" fill="#2233dd"/>
<circle cx="342.48" cy="323.15" r="2.7" fill="#2233dd"/>
<circle cx="352.74" cy="330.30" r="2.7" fill="#2233dd"/>
<circle cx="363.00" cy="333.60" r="2.7" fill="#2233dd"/>
<circle cx="373.26" cy="331.95" r="2.7" fill="#2233dd"/>
<circle cx="383.52" cy="334.70" r="2.7" fill="#2233dd"/>
<circle cx="393.78" cy="335.25" r="2.7" fill="#2233dd"/>
<circle cx="404.04" cy="336.90" r="2.7" fill="#2233dd"/>
<line x1="311.10" y1="357.30" x2="316.80" y2="357.50" stroke="#1a1a1a" stroke-width="1.05"/>
<line x1="324.30" y1="360.20" x2="330.00" y2="360.20" stroke="#1a1a1a" stroke-width="1.05"/>
<ellipse cx="320.30" cy="361.50" rx="4.75" ry="3.6" fill="#fff" stroke="#1a1a1a" stroke-width="1.05"/>
<ellipse cx="320.30" cy="355.40" rx="3.5" ry="2.1" fill="#fff" stroke="#1a1a1a" stroke-width="1.05"/>
<line x1="341.10" y1="357.30" x2="345.40" y2="357.50" stroke="#1a1a1a" stroke-width="1.05"/>
<line x1="362.20" y1="360.20" x2="368.10" y2="360.20" stroke="#1a1a1a" stroke-width="1.05"/>
<ellipse cx="348.90" cy="361.50" rx="4.75" ry="3.6" fill="#fff" stroke="#1a1a1a" stroke-width="1.05"/>
<ellipse cx="348.90" cy="355.40" rx="3.5" ry="2.1" fill="#fff" stroke="#1a1a1a" stroke-width="1.05"/>
<ellipse cx="358.20" cy="361.50" rx="4.75" ry="3.6" fill="#fff" stroke="#1a1a1a" stroke-width="1.05"/>
<ellipse cx="358.20" cy="355.40" rx="3.5" ry="2.1" fill="#fff" stroke="#1a1a1a" stroke-width="1.05"/>
<line x1="373.40" y1="357.30" x2="377.30" y2="357.50" stroke="#1a1a1a" stroke-width="1.05"/>
<line x1="405.10" y1="360.20" x2="409.60" y2="360.20" stroke="#1a1a1a" stroke-width="1.05"/>
<ellipse cx="380.80" cy="361.50" rx="4.75" ry="3.6" fill="#fff" stroke="#1a1a1a" stroke-width="1.05"/>
<ellipse cx="380.80" cy="355.40" rx="3.5" ry="2.1" fill="#fff" stroke="#1a1a1a" stroke-width="1.05"/>
<ellipse cx="391.20" cy="361.50" rx="4.75" ry="3.6" fill="#fff" stroke="#1a1a1a" stroke-width="1.05"/>
<ellipse cx="391.20" cy="355.40" rx="3.5" ry="2.1" fill="#fff" stroke="#1a1a1a" stroke-width="1.05"/>
<ellipse cx="401.10" cy="361.50" rx="4.75" ry="3.6" fill="#fff" stroke="#1a1a1a" stroke-width="1.05"/>
<ellipse cx="401.10" cy="355.40" rx="3.5" ry="2.1" fill="#fff" stroke="#1a1a1a" stroke-width="1.05"/>
<rect x="418.20" y="228.20" width="93.63" height="51.70" fill="#faeed8"/>
<rect x="418.20" y="290.00" width="93.63" height="51.00" fill="#e4f5fa"/>
<rect x="418.20" y="279.90" width="93.63" height="3.00" fill="#fdf3ea"/>
<rect x="418.20" y="288.00" width="93.63" height="2.00" fill="#eef8fc"/>
<line x1="416.40" y1="228.20" x2="416.40" y2="341.50" stroke="#333" stroke-width="1.1"/>
<line x1="416.40" y1="341.00" x2="511.83" y2="341.00" stroke="#333" stroke-width="1.1"/>
<line x1="414.60" y1="341.00" x2="416.40" y2="341.00" stroke="#333" stroke-width="0.8"/>
<line x1="414.60" y1="330.24" x2="416.40" y2="330.24" stroke="#333" stroke-width="0.8"/>
<line x1="414.60" y1="319.48" x2="416.40" y2="319.48" stroke="#333" stroke-width="0.8"/>
<line x1="414.60" y1="308.72" x2="416.40" y2="308.72" stroke="#333" stroke-width="0.8"/>
<line x1="414.60" y1="297.96" x2="416.40" y2="297.96" stroke="#333" stroke-width="0.8"/>
<line x1="414.60" y1="287.20" x2="416.40" y2="287.20" stroke="#333" stroke-width="0.8"/>
<line x1="414.60" y1="267.53" x2="416.40" y2="267.53" stroke="#333" stroke-width="0.8"/>
<line x1="414.60" y1="247.87" x2="416.40" y2="247.87" stroke="#333" stroke-width="0.8"/>
<line x1="414.60" y1="228.20" x2="416.40" y2="228.20" stroke="#333" stroke-width="0.8"/>
<line x1="416.40" y1="287.20" x2="511.83" y2="287.20" stroke="#2a2a35" stroke-width="1.3" stroke-dasharray="2.4,1.3"/>
<text x="461.20" y="221.00" font-size="10" text-anchor="middle" fill="#111" stroke="#111" stroke-width="0.22">GAPDH</text>
<text x="416.40" y="349.30" font-size="7.6" text-anchor="middle" fill="#333" stroke="#333" stroke-width="0.22">1</text>
<text x="426.87" y="349.30" font-size="7.6" text-anchor="middle" fill="#333" stroke="#333" stroke-width="0.22">2</text>
<text x="437.34" y="349.30" font-size="7.6" text-anchor="middle" fill="#333" stroke="#333" stroke-width="0.22">3</text>
<text x="447.81" y="349.30" font-size="7.6" text-anchor="middle" fill="#333" stroke="#333" stroke-width="0.22">4</text>
<text x="458.28" y="349.30" font-size="7.6" text-anchor="middle" fill="#333" stroke="#333" stroke-width="0.22">5</text>
<text x="468.75" y="349.30" font-size="7.6" text-anchor="middle" fill="#333" stroke="#333" stroke-width="0.22">6</text>
<text x="479.22" y="349.30" font-size="7.6" text-anchor="middle" fill="#333" stroke="#333" stroke-width="0.22">7</text>
<text x="489.69" y="349.30" font-size="7.6" text-anchor="middle" fill="#333" stroke="#333" stroke-width="0.22">8</text>
<text x="500.16" y="349.30" font-size="7.6" text-anchor="middle" fill="#333" stroke="#333" stroke-width="0.22">9</text>
<text x="510.63" y="349.30" font-size="7.6" text-anchor="middle" fill="#333" stroke="#333" stroke-width="0.22">10</text>
<text x="479.10" y="245.30" font-size="9.0" text-anchor="middle" fill="#262626" stroke="#262626" stroke-width="0.22" textLength="54.20" lengthAdjust="spacingAndGlyphs">PU-H71 enriched</text>
<text x="441.50" y="319.30" font-size="9.0" fill="#262626" stroke="#262626" stroke-width="0.22" textLength="54.30" lengthAdjust="spacingAndGlyphs">PU-H71 depleted</text>
<polyline points="416.40,286.30 426.87,297.85 437.34,267.38 447.81,298.95 458.28,282.43 468.75,307.20 479.22,271.14 489.69,268.77 500.16,281.83 510.63,286.85" fill="none" stroke="#b84a3a" stroke-width="0.95"/>
<circle cx="416.40" cy="286.30" r="2.7" fill="#d33a26"/>
<circle cx="426.87" cy="297.85" r="2.7" fill="#d33a26"/>
<circle cx="437.34" cy="267.38" r="2.7" fill="#d33a26"/>
<circle cx="447.81" cy="298.95" r="2.7" fill="#d33a26"/>
<circle cx="458.28" cy="282.43" r="2.7" fill="#d33a26"/>
<circle cx="468.75" cy="307.20" r="2.7" fill="#d33a26"/>
<circle cx="479.22" cy="271.14" r="2.7" fill="#d33a26"/>
<circle cx="489.69" cy="268.77" r="2.7" fill="#d33a26"/>
<circle cx="500.16" cy="281.83" r="2.7" fill="#d33a26"/>
<circle cx="510.63" cy="286.85" r="2.7" fill="#d33a26"/>
<polyline points="416.40,296.75 426.87,306.65 437.34,282.43 447.81,280.25 458.28,291.80 468.75,301.70 479.22,291.25 489.69,295.10 500.16,301.15 510.63,306.65" fill="none" stroke="#5a9a45" stroke-width="0.95"/>
<circle cx="416.40" cy="296.75" r="2.7" fill="#4f8e34"/>
<circle cx="426.87" cy="306.65" r="2.7" fill="#4f8e34"/>
<circle cx="437.34" cy="282.43" r="2.7" fill="#4f8e34"/>
<circle cx="447.81" cy="280.25" r="2.7" fill="#4f8e34"/>
<circle cx="458.28" cy="291.80" r="2.7" fill="#4f8e34"/>
<circle cx="468.75" cy="301.70" r="2.7" fill="#4f8e34"/>
<circle cx="479.22" cy="291.25" r="2.7" fill="#4f8e34"/>
<circle cx="489.69" cy="295.10" r="2.7" fill="#4f8e34"/>
<circle cx="500.16" cy="301.15" r="2.7" fill="#4f8e34"/>
<circle cx="510.63" cy="306.65" r="2.7" fill="#4f8e34"/>
<polyline points="416.40,329.75 426.87,325.90 437.34,327.55 447.81,333.60 458.28,335.25 468.75,328.65 479.22,331.95 489.69,329.20 500.16,324.80 510.63,327.55" fill="none" stroke="#3a4ad0" stroke-width="0.95"/>
<circle cx="416.40" cy="329.75" r="2.7" fill="#2233dd"/>
<circle cx="426.87" cy="325.90" r="2.7" fill="#2233dd"/>
<circle cx="437.34" cy="327.55" r="2.7" fill="#2233dd"/>
<circle cx="447.81" cy="333.60" r="2.7" fill="#2233dd"/>
<circle cx="458.28" cy="335.25" r="2.7" fill="#2233dd"/>
<circle cx="468.75" cy="328.65" r="2.7" fill="#2233dd"/>
<circle cx="479.22" cy="331.95" r="2.7" fill="#2233dd"/>
<circle cx="489.69" cy="329.20" r="2.7" fill="#2233dd"/>
<circle cx="500.16" cy="324.80" r="2.7" fill="#2233dd"/>
<circle cx="510.63" cy="327.55" r="2.7" fill="#2233dd"/>
<line x1="412.70" y1="357.30" x2="418.40" y2="357.50" stroke="#1a1a1a" stroke-width="1.05"/>
<line x1="425.90" y1="360.20" x2="431.80" y2="360.20" stroke="#1a1a1a" stroke-width="1.05"/>
<ellipse cx="421.90" cy="361.50" rx="4.75" ry="3.6" fill="#fff" stroke="#1a1a1a" stroke-width="1.05"/>
<ellipse cx="421.90" cy="355.40" rx="3.5" ry="2.1" fill="#fff" stroke="#1a1a1a" stroke-width="1.05"/>
<line x1="440.40" y1="357.30" x2="446.10" y2="357.50" stroke="#1a1a1a" stroke-width="1.05"/>
<line x1="462.20" y1="360.20" x2="467.40" y2="360.20" stroke="#1a1a1a" stroke-width="1.05"/>
<ellipse cx="449.60" cy="361.50" rx="4.75" ry="3.6" fill="#fff" stroke="#1a1a1a" stroke-width="1.05"/>
<ellipse cx="449.60" cy="355.40" rx="3.5" ry="2.1" fill="#fff" stroke="#1a1a1a" stroke-width="1.05"/>
<ellipse cx="458.20" cy="361.50" rx="4.75" ry="3.6" fill="#fff" stroke="#1a1a1a" stroke-width="1.05"/>
<ellipse cx="458.20" cy="355.40" rx="3.5" ry="2.1" fill="#fff" stroke="#1a1a1a" stroke-width="1.05"/>
<line x1="473.40" y1="357.30" x2="481.90" y2="357.50" stroke="#1a1a1a" stroke-width="1.05"/>
<line x1="509.00" y1="360.20" x2="516.50" y2="360.20" stroke="#1a1a1a" stroke-width="1.05"/>
<ellipse cx="485.40" cy="361.50" rx="4.75" ry="3.6" fill="#fff" stroke="#1a1a1a" stroke-width="1.05"/>
<ellipse cx="485.40" cy="355.40" rx="3.5" ry="2.1" fill="#fff" stroke="#1a1a1a" stroke-width="1.05"/>
<ellipse cx="494.60" cy="361.50" rx="4.75" ry="3.6" fill="#fff" stroke="#1a1a1a" stroke-width="1.05"/>
<ellipse cx="494.60" cy="355.40" rx="3.5" ry="2.1" fill="#fff" stroke="#1a1a1a" stroke-width="1.05"/>
<ellipse cx="505.00" cy="361.50" rx="4.75" ry="3.6" fill="#fff" stroke="#1a1a1a" stroke-width="1.05"/>
<ellipse cx="505.00" cy="355.40" rx="3.5" ry="2.1" fill="#fff" stroke="#1a1a1a" stroke-width="1.05"/>
<text x="96.00" y="343.10" font-size="8.2" text-anchor="end" fill="#444" stroke="#444" stroke-width="0.22">0.0</text>
<text x="96.00" y="332.10" font-size="8.2" text-anchor="end" fill="#444" stroke="#444" stroke-width="0.22">0.2</text>
<text x="96.00" y="321.10" font-size="8.2" text-anchor="end" fill="#444" stroke="#444" stroke-width="0.22">0.4</text>
<text x="96.00" y="310.10" font-size="8.2" text-anchor="end" fill="#444" stroke="#444" stroke-width="0.22">0.6</text>
<text x="96.00" y="299.10" font-size="8.2" text-anchor="end" fill="#444" stroke="#444" stroke-width="0.22">0.8</text>
<text x="96.00" y="288.10" font-size="8.2" text-anchor="end" fill="#444" stroke="#444" stroke-width="0.22">1.0</text>
<text x="96.00" y="268.30" font-size="8.2" text-anchor="end" fill="#444" stroke="#444" stroke-width="0.22">2.0</text>
<text x="96.00" y="248.50" font-size="8.2" text-anchor="end" fill="#444" stroke="#444" stroke-width="0.22">3.0</text>
<text x="96.00" y="228.70" font-size="8.2" text-anchor="end" fill="#444" stroke="#444" stroke-width="0.22">4.0</text>
<text x="2.60" y="359.40" font-size="9.6" fill="#111" stroke="#111" stroke-width="0.22" textLength="78.40" lengthAdjust="spacingAndGlyphs">Polysomal fraction</text>
<text x="2.20" y="390.40" font-size="12.5" fill="#111" stroke="#111" stroke-width="0.22" font-weight="bold">C</text>
<line x1="59.00" y1="394.70" x2="59.00" y2="522.60" stroke="#222" stroke-width="1.1"/>
<line x1="59.00" y1="522.10" x2="233.30" y2="522.10" stroke="#222" stroke-width="1.1"/>
<line x1="57.00" y1="510.70" x2="59.00" y2="510.70" stroke="#222" stroke-width="0.8"/>
<text x="56.60" y="513.22" font-size="7.0" text-anchor="end" fill="#1e1e1e" stroke="#1e1e1e" stroke-width="0.22">0</text>
<line x1="57.00" y1="487.62" x2="59.00" y2="487.62" stroke="#222" stroke-width="0.8"/>
<text x="56.60" y="490.14" font-size="7.0" text-anchor="end" fill="#1e1e1e" stroke="#1e1e1e" stroke-width="0.22">1000</text>
<line x1="57.00" y1="464.54" x2="59.00" y2="464.54" stroke="#222" stroke-width="0.8"/>
<text x="56.60" y="467.06" font-size="7.0" text-anchor="end" fill="#1e1e1e" stroke="#1e1e1e" stroke-width="0.22">2000</text>
<line x1="57.00" y1="441.46" x2="59.00" y2="441.46" stroke="#222" stroke-width="0.8"/>
<text x="56.60" y="443.98" font-size="7.0" text-anchor="end" fill="#1e1e1e" stroke="#1e1e1e" stroke-width="0.22">3000</text>
<line x1="57.00" y1="418.38" x2="59.00" y2="418.38" stroke="#222" stroke-width="0.8"/>
<text x="56.60" y="420.90" font-size="7.0" text-anchor="end" fill="#1e1e1e" stroke="#1e1e1e" stroke-width="0.22">4000</text>
<line x1="57.00" y1="395.30" x2="59.00" y2="395.30" stroke="#222" stroke-width="0.8"/>
<text x="56.60" y="397.82" font-size="7.0" text-anchor="end" fill="#1e1e1e" stroke="#1e1e1e" stroke-width="0.22">5000</text>
<text x="27.60" y="457.20" font-size="8.3" text-anchor="middle" fill="#111" stroke="#111" stroke-width="0.22" textLength="136.00" lengthAdjust="spacingAndGlyphs" transform="rotate(-90 27.60 457.20)">Tumor growth day 1 to day 11 (AUC)</text>
<text x="95.70" y="402.00" font-size="9.7" fill="#111" stroke="#111" stroke-width="0.22" textLength="110.00" lengthAdjust="spacingAndGlyphs">OCI-Ly1 (TH DLBC) mice</text>
<line x1="81.70" y1="522.10" x2="81.70" y2="524.10" stroke="#222" stroke-width="0.8"/>
<circle cx="81.70" cy="414.60" r="2.35" fill="#707070"/>
<circle cx="81.70" cy="429.30" r="2.35" fill="#707070"/>
<circle cx="81.70" cy="438.40" r="2.35" fill="#707070"/>
<circle cx="81.70" cy="454.70" r="2.35" fill="#707070"/>
<circle cx="81.70" cy="458.10" r="2.35" fill="#707070"/>
<circle cx="81.70" cy="472.80" r="2.35" fill="#707070"/>
<line x1="67.40" y1="444.50" x2="95.70" y2="444.50" stroke="#2a2a2a" stroke-width="1.2"/>
<line x1="74.20" y1="435.70" x2="89.00" y2="435.70" stroke="#2a2a2a" stroke-width="1.2"/>
<line x1="74.20" y1="453.10" x2="89.00" y2="453.10" stroke="#2a2a2a" stroke-width="1.2"/>
<line x1="81.70" y1="435.70" x2="81.70" y2="453.10" stroke="#2a2a2a" stroke-width="1.1"/>
<line x1="125.60" y1="522.10" x2="125.60" y2="524.10" stroke="#222" stroke-width="0.8"/>
<circle cx="125.60" cy="471.60" r="2.35" fill="#e2a03a"/>
<circle cx="125.60" cy="477.00" r="2.35" fill="#e2a03a"/>
<circle cx="125.60" cy="486.60" r="2.35" fill="#e2a03a"/>
<circle cx="125.60" cy="495.00" r="2.35" fill="#e2a03a"/>
<circle cx="125.60" cy="497.40" r="2.35" fill="#e2a03a"/>
<line x1="111.10" y1="485.90" x2="139.90" y2="485.90" stroke="#2a2a2a" stroke-width="1.2"/>
<line x1="117.90" y1="480.70" x2="133.10" y2="480.70" stroke="#2a2a2a" stroke-width="1.2"/>
<line x1="117.90" y1="490.90" x2="133.10" y2="490.90" stroke="#2a2a2a" stroke-width="1.2"/>
<line x1="125.60" y1="480.70" x2="125.60" y2="490.90" stroke="#2a2a2a" stroke-width="1.1"/>
<line x1="169.20" y1="522.10" x2="169.20" y2="524.10" stroke="#222" stroke-width="0.8"/>
<circle cx="169.20" cy="478.50" r="2.35" fill="#7878dc"/>
<circle cx="169.20" cy="488.20" r="2.35" fill="#7878dc"/>
<circle cx="169.20" cy="497.20" r="2.35" fill="#7878dc"/>
<circle cx="169.20" cy="500.00" r="2.35" fill="#7878dc"/>
<circle cx="169.20" cy="505.00" r="2.35" fill="#7878dc"/>
<line x1="154.70" y1="495.00" x2="183.50" y2="495.00" stroke="#2a2a2a" stroke-width="1.2"/>
<line x1="161.50" y1="491.40" x2="176.70" y2="491.40" stroke="#2a2a2a" stroke-width="1.2"/>
<line x1="161.50" y1="498.20" x2="176.70" y2="498.20" stroke="#2a2a2a" stroke-width="1.2"/>
<line x1="169.20" y1="491.40" x2="169.20" y2="498.20" stroke="#2a2a2a" stroke-width="1.1"/>
<line x1="212.80" y1="522.10" x2="212.80" y2="524.10" stroke="#222" stroke-width="0.8"/>
<circle cx="212.80" cy="504.60" r="2.35" fill="#74248a"/>
<circle cx="212.80" cy="506.80" r="2.35" fill="#74248a"/>
<circle cx="212.80" cy="509.00" r="2.35" fill="#74248a"/>
<circle cx="212.80" cy="511.20" r="2.35" fill="#74248a"/>
<circle cx="212.80" cy="513.20" r="2.35" fill="#74248a"/>
<rect x="205.30" y="506.30" width="15.00" height="3.30" fill="#8c8c8c"/>
<line x1="198.40" y1="507.90" x2="227.10" y2="507.90" stroke="#7a7a7a" stroke-width="1.3"/>
<circle cx="212.80" cy="504.60" r="2.5500000000000003" fill="#74248a"/>
<circle cx="212.80" cy="506.80" r="2.5500000000000003" fill="#74248a"/>
<circle cx="212.80" cy="509.00" r="2.5500000000000003" fill="#74248a"/>
<circle cx="212.80" cy="511.20" r="2.5500000000000003" fill="#74248a"/>
<circle cx="212.80" cy="513.20" r="2.5500000000000003" fill="#74248a"/>
<text x="105.20" y="454.70" font-size="8.6" fill="#111" stroke="#111" stroke-width="0.22" font-style="italic" textLength="41.50" lengthAdjust="spacingAndGlyphs">p = 0.0043</text>
<text x="147.90" y="467.10" font-size="8.6" fill="#111" stroke="#111" stroke-width="0.22" font-style="italic" textLength="41.40" lengthAdjust="spacingAndGlyphs">p = 0.0015</text>
<text x="193.90" y="491.40" font-size="8.6" fill="#111" stroke="#111" stroke-width="0.22" font-style="italic" textLength="41.20" lengthAdjust="spacingAndGlyphs">p = 0.0008</text>
<text x="80.50" y="535.90" font-size="9.5" text-anchor="middle" fill="#111" stroke="#111" stroke-width="0.22" textLength="30.50" lengthAdjust="spacingAndGlyphs">Vehicle</text>
<text x="125.60" y="535.90" font-size="9.5" text-anchor="middle" fill="#111" stroke="#111" stroke-width="0.22" textLength="19.50" lengthAdjust="spacingAndGlyphs">RBV</text>
<text x="169.40" y="535.90" font-size="9.5" text-anchor="middle" fill="#111" stroke="#111" stroke-width="0.22" textLength="34.00" lengthAdjust="spacingAndGlyphs">PU-H71</text>
<text x="213.00" y="535.90" font-size="9.5" text-anchor="middle" fill="#111" stroke="#111" stroke-width="0.22" textLength="30.60" lengthAdjust="spacingAndGlyphs">Combo</text>
<text x="266.50" y="389.70" font-size="12.5" fill="#111" stroke="#111" stroke-width="0.22" font-weight="bold">D</text>
<line x1="306.70" y1="397.60" x2="306.70" y2="522.40" stroke="#222" stroke-width="1.1"/>
<line x1="306.70" y1="521.90" x2="492.30" y2="521.90" stroke="#222" stroke-width="1.1"/>
<line x1="304.70" y1="522.10" x2="306.70" y2="522.10" stroke="#222" stroke-width="0.8"/>
<text x="305.40" y="524.44" font-size="6.5" text-anchor="end" fill="#1e1e1e" stroke="#1e1e1e" stroke-width="0.22">-500</text>
<line x1="304.70" y1="497.30" x2="306.70" y2="497.30" stroke="#222" stroke-width="0.8"/>
<text x="305.40" y="499.64" font-size="6.5" text-anchor="end" fill="#1e1e1e" stroke="#1e1e1e" stroke-width="0.22">0</text>
<line x1="304.70" y1="472.50" x2="306.70" y2="472.50" stroke="#222" stroke-width="0.8"/>
<text x="305.40" y="474.84" font-size="6.5" text-anchor="end" fill="#1e1e1e" stroke="#1e1e1e" stroke-width="0.22">500</text>
<line x1="304.70" y1="447.70" x2="306.70" y2="447.70" stroke="#222" stroke-width="0.8"/>
<text x="305.40" y="450.04" font-size="6.5" text-anchor="end" fill="#1e1e1e" stroke="#1e1e1e" stroke-width="0.22">1000</text>
<line x1="304.70" y1="422.90" x2="306.70" y2="422.90" stroke="#222" stroke-width="0.8"/>
<text x="305.40" y="425.24" font-size="6.5" text-anchor="end" fill="#1e1e1e" stroke="#1e1e1e" stroke-width="0.22">1500</text>
<line x1="304.70" y1="398.10" x2="306.70" y2="398.10" stroke="#222" stroke-width="0.8"/>
<text x="305.40" y="400.44" font-size="6.5" text-anchor="end" fill="#1e1e1e" stroke="#1e1e1e" stroke-width="0.22">2000</text>
<text x="277.60" y="459.60" font-size="7.5" text-anchor="middle" fill="#111" stroke="#111" stroke-width="0.22" textLength="122.60" lengthAdjust="spacingAndGlyphs" transform="rotate(-90 277.60 459.60)">Tumor growth day 1 to day 10 (AUC)</text>
<text x="351.90" y="401.90" font-size="9.7" fill="#111" stroke="#111" stroke-width="0.22" textLength="121.50" lengthAdjust="spacingAndGlyphs">SU-DHL6 (DH DLBCL) mice</text>
<line x1="330.50" y1="521.90" x2="330.50" y2="523.90" stroke="#222" stroke-width="0.8"/>
<circle cx="330.50" cy="421.10" r="2.05" fill="#707070"/>
<circle cx="330.50" cy="434.20" r="2.05" fill="#707070"/>
<circle cx="330.50" cy="437.20" r="2.05" fill="#707070"/>
<circle cx="330.50" cy="440.50" r="2.05" fill="#707070"/>
<circle cx="330.50" cy="455.00" r="2.05" fill="#707070"/>
<circle cx="330.50" cy="458.50" r="2.05" fill="#707070"/>
<circle cx="330.50" cy="461.90" r="2.05" fill="#707070"/>
<circle cx="330.50" cy="465.90" r="2.05" fill="#707070"/>
<circle cx="330.50" cy="468.90" r="2.05" fill="#707070"/>
<line x1="315.70" y1="448.30" x2="346.20" y2="448.30" stroke="#2a2a2a" stroke-width="1.2"/>
<line x1="322.60" y1="442.30" x2="338.80" y2="442.30" stroke="#2a2a2a" stroke-width="1.2"/>
<line x1="322.60" y1="454.30" x2="338.80" y2="454.30" stroke="#2a2a2a" stroke-width="1.2"/>
<line x1="330.50" y1="442.30" x2="330.50" y2="454.30" stroke="#2a2a2a" stroke-width="1.1"/>
<line x1="377.30" y1="521.90" x2="377.30" y2="523.90" stroke="#222" stroke-width="0.8"/>
<circle cx="377.30" cy="456.60" r="2.05" fill="#e2a03a"/>
<circle cx="377.30" cy="465.90" r="2.05" fill="#e2a03a"/>
<circle cx="377.30" cy="474.60" r="2.05" fill="#e2a03a"/>
<circle cx="377.30" cy="478.10" r="2.05" fill="#e2a03a"/>
<circle cx="377.30" cy="481.50" r="2.05" fill="#e2a03a"/>
<circle cx="377.30" cy="491.20" r="2.05" fill="#e2a03a"/>
<circle cx="377.30" cy="496.50" r="2.05" fill="#e2a03a"/>
<line x1="362.30" y1="477.90" x2="392.30" y2="477.90" stroke="#2a2a2a" stroke-width="1.2"/>
<line x1="369.20" y1="472.80" x2="384.90" y2="472.80" stroke="#2a2a2a" stroke-width="1.2"/>
<line x1="369.20" y1="483.20" x2="384.90" y2="483.20" stroke="#2a2a2a" stroke-width="1.2"/>
<line x1="377.30" y1="472.80" x2="377.30" y2="483.20" stroke="#2a2a2a" stroke-width="1.1"/>
<line x1="423.10" y1="521.90" x2="423.10" y2="523.90" stroke="#222" stroke-width="0.8"/>
<circle cx="423.10" cy="467.70" r="2.05" fill="#7878dc"/>
<circle cx="423.10" cy="475.10" r="2.05" fill="#7878dc"/>
<circle cx="423.10" cy="476.90" r="2.05" fill="#7878dc"/>
<circle cx="423.10" cy="485.00" r="2.05" fill="#7878dc"/>
<circle cx="423.10" cy="489.60" r="2.05" fill="#7878dc"/>
<circle cx="423.10" cy="495.40" r="2.05" fill="#7878dc"/>
<circle cx="423.10" cy="498.90" r="2.05" fill="#7878dc"/>
<line x1="408.10" y1="485.70" x2="438.80" y2="485.70" stroke="#2a2a2a" stroke-width="1.2"/>
<line x1="415.70" y1="481.10" x2="431.20" y2="481.10" stroke="#2a2a2a" stroke-width="1.2"/>
<line x1="415.70" y1="490.30" x2="431.20" y2="490.30" stroke="#2a2a2a" stroke-width="1.2"/>
<line x1="423.10" y1="481.10" x2="423.10" y2="490.30" stroke="#2a2a2a" stroke-width="1.1"/>
<line x1="469.20" y1="521.90" x2="469.20" y2="523.90" stroke="#222" stroke-width="0.8"/>
<circle cx="469.20" cy="488.00" r="2.05" fill="#74248a"/>
<circle cx="469.20" cy="491.00" r="2.05" fill="#74248a"/>
<circle cx="469.20" cy="494.00" r="2.05" fill="#74248a"/>
<circle cx="469.20" cy="497.00" r="2.05" fill="#74248a"/>
<circle cx="469.20" cy="500.00" r="2.05" fill="#74248a"/>
<circle cx="469.20" cy="503.00" r="2.05" fill="#74248a"/>
<circle cx="469.20" cy="506.00" r="2.05" fill="#74248a"/>
<circle cx="469.20" cy="508.10" r="2.05" fill="#74248a"/>
<line x1="454.20" y1="498.20" x2="484.90" y2="498.20" stroke="#2a2a2a" stroke-width="1.2"/>
<line x1="461.80" y1="495.90" x2="477.30" y2="495.90" stroke="#2a2a2a" stroke-width="1.2"/>
<line x1="461.80" y1="500.50" x2="477.30" y2="500.50" stroke="#2a2a2a" stroke-width="1.2"/>
<line x1="469.20" y1="495.90" x2="469.20" y2="500.50" stroke="#2a2a2a" stroke-width="1.1"/>
<text x="360.50" y="434.90" font-size="8.6" fill="#111" stroke="#111" stroke-width="0.22" font-style="italic" textLength="35.30" lengthAdjust="spacingAndGlyphs">p = 0.004</text>
<text x="401.20" y="453.40" font-size="8.6" fill="#111" stroke="#111" stroke-width="0.22" font-style="italic" textLength="42.20" lengthAdjust="spacingAndGlyphs">p = 0.0006</text>
<text x="443.80" y="476.50" font-size="8.6" fill="#111" stroke="#111" stroke-width="0.22" font-style="italic" textLength="41.10" lengthAdjust="spacingAndGlyphs">p < 0.0001</text>
<text x="333.70" y="536.50" font-size="9.5" text-anchor="middle" fill="#111" stroke="#111" stroke-width="0.22" textLength="30.40" lengthAdjust="spacingAndGlyphs">Vehicle</text>
<text x="377.30" y="536.50" font-size="9.5" text-anchor="middle" fill="#111" stroke="#111" stroke-width="0.22" textLength="19.50" lengthAdjust="spacingAndGlyphs">RBV</text>
<text x="422.50" y="536.50" font-size="9.5" text-anchor="middle" fill="#111" stroke="#111" stroke-width="0.22" textLength="33.40" lengthAdjust="spacingAndGlyphs">PU-H71</text>
<text x="466.50" y="536.50" font-size="9.5" text-anchor="middle" fill="#111" stroke="#111" stroke-width="0.22" textLength="30.70" lengthAdjust="spacingAndGlyphs">Combo</text>
<text x="2.20" y="550.80" font-size="12.5" fill="#111" stroke="#111" stroke-width="0.22" font-weight="bold">E</text>
<line x1="54.00" y1="566.10" x2="54.00" y2="690.50" stroke="#222" stroke-width="1.1"/>
<line x1="54.00" y1="690.00" x2="241.50" y2="690.00" stroke="#222" stroke-width="1.1"/>
<line x1="52.00" y1="690.10" x2="54.00" y2="690.10" stroke="#222" stroke-width="0.8"/>
<text x="51.60" y="692.84" font-size="7.6" text-anchor="end" fill="#1e1e1e" stroke="#1e1e1e" stroke-width="0.22">0</text>
<line x1="52.00" y1="659.20" x2="54.00" y2="659.20" stroke="#222" stroke-width="0.8"/>
<text x="51.60" y="661.94" font-size="7.6" text-anchor="end" fill="#1e1e1e" stroke="#1e1e1e" stroke-width="0.22">5000</text>
<line x1="52.00" y1="628.30" x2="54.00" y2="628.30" stroke="#222" stroke-width="0.8"/>
<text x="51.60" y="631.04" font-size="7.6" text-anchor="end" fill="#1e1e1e" stroke="#1e1e1e" stroke-width="0.22">10000</text>
<line x1="52.00" y1="597.40" x2="54.00" y2="597.40" stroke="#222" stroke-width="0.8"/>
<text x="51.60" y="600.14" font-size="7.6" text-anchor="end" fill="#1e1e1e" stroke="#1e1e1e" stroke-width="0.22">15000</text>
<line x1="52.00" y1="566.50" x2="54.00" y2="566.50" stroke="#222" stroke-width="0.8"/>
<text x="51.60" y="569.24" font-size="7.6" text-anchor="end" fill="#1e1e1e" stroke="#1e1e1e" stroke-width="0.22">20000</text>
<text x="20.80" y="626.20" font-size="8.5" text-anchor="middle" fill="#111" stroke="#111" stroke-width="0.22" textLength="139.60" lengthAdjust="spacingAndGlyphs" transform="rotate(-90 20.80 626.20)">Tumor growth day 1 to day 20 (AUC)</text>
<text x="106.90" y="571.60" font-size="9.7" fill="#111" stroke="#111" stroke-width="0.22" textLength="91.90" lengthAdjust="spacingAndGlyphs">Triple-hit DLBCL PDX</text>
<line x1="78.20" y1="690.00" x2="78.20" y2="692.00" stroke="#222" stroke-width="0.8"/>
<circle cx="78.20" cy="585.50" r="1.75" fill="#707070"/>
<circle cx="78.20" cy="599.30" r="1.75" fill="#707070"/>
<circle cx="78.20" cy="613.20" r="1.75" fill="#707070"/>
<circle cx="78.20" cy="626.50" r="1.75" fill="#707070"/>
<circle cx="78.20" cy="628.40" r="1.75" fill="#707070"/>
<circle cx="78.20" cy="630.00" r="1.75" fill="#707070"/>
<circle cx="78.20" cy="641.50" r="1.75" fill="#707070"/>
<circle cx="78.20" cy="649.20" r="1.75" fill="#707070"/>
<line x1="63.10" y1="621.90" x2="93.80" y2="621.90" stroke="#2a2a2a" stroke-width="1.2"/>
<line x1="70.70" y1="600.50" x2="86.20" y2="600.50" stroke="#2a2a2a" stroke-width="1.2"/>
<line x1="70.70" y1="643.20" x2="86.20" y2="643.20" stroke="#2a2a2a" stroke-width="1.2"/>
<line x1="78.20" y1="600.50" x2="78.20" y2="643.20" stroke="#2a2a2a" stroke-width="1.1"/>
<line x1="124.70" y1="690.00" x2="124.70" y2="692.00" stroke="#222" stroke-width="0.8"/>
<circle cx="124.70" cy="623.10" r="1.75" fill="#7878dc"/>
<circle cx="124.70" cy="625.40" r="1.75" fill="#7878dc"/>
<circle cx="124.70" cy="635.80" r="1.75" fill="#7878dc"/>
<circle cx="124.70" cy="645.00" r="1.75" fill="#7878dc"/>
<circle cx="124.70" cy="651.90" r="1.75" fill="#7878dc"/>
<circle cx="124.70" cy="661.60" r="1.75" fill="#7878dc"/>
<circle cx="124.70" cy="663.50" r="1.75" fill="#7878dc"/>
<circle cx="124.70" cy="673.20" r="1.75" fill="#7878dc"/>
<line x1="109.20" y1="647.80" x2="140.40" y2="647.80" stroke="#2a2a2a" stroke-width="1.2"/>
<line x1="116.80" y1="629.30" x2="133.00" y2="629.30" stroke="#2a2a2a" stroke-width="1.2"/>
<line x1="116.80" y1="665.80" x2="133.00" y2="665.80" stroke="#2a2a2a" stroke-width="1.2"/>
<line x1="124.70" y1="629.30" x2="124.70" y2="665.80" stroke="#2a2a2a" stroke-width="1.1"/>
<line x1="171.60" y1="690.00" x2="171.60" y2="692.00" stroke="#222" stroke-width="0.8"/>
<circle cx="171.60" cy="652.40" r="1.75" fill="#e2a03a"/>
<circle cx="171.60" cy="654.20" r="1.75" fill="#e2a03a"/>
<circle cx="171.60" cy="656.50" r="1.75" fill="#e2a03a"/>
<circle cx="171.60" cy="661.20" r="1.75" fill="#e2a03a"/>
<circle cx="171.60" cy="672.70" r="1.75" fill="#e2a03a"/>
<circle cx="171.60" cy="676.20" r="1.75" fill="#e2a03a"/>
<circle cx="171.60" cy="683.10" r="1.75" fill="#e2a03a"/>
<line x1="156.20" y1="666.50" x2="187.30" y2="666.50" stroke="#2a2a2a" stroke-width="1.2"/>
<line x1="164.20" y1="654.70" x2="179.70" y2="654.70" stroke="#2a2a2a" stroke-width="1.2"/>
<line x1="164.20" y1="678.50" x2="179.70" y2="678.50" stroke="#2a2a2a" stroke-width="1.2"/>
<line x1="171.60" y1="654.70" x2="171.60" y2="678.50" stroke="#2a2a2a" stroke-width="1.1"/>
<line x1="218.00" y1="690.00" x2="218.00" y2="692.00" stroke="#222" stroke-width="0.8"/>
<circle cx="218.00" cy="665.80" r="1.75" fill="#74248a"/>
<circle cx="218.00" cy="668.50" r="1.75" fill="#74248a"/>
<circle cx="218.00" cy="680.80" r="1.75" fill="#74248a"/>
<circle cx="218.00" cy="683.10" r="1.75" fill="#74248a"/>
<circle cx="218.00" cy="686.10" r="1.75" fill="#74248a"/>
<line x1="202.80" y1="676.90" x2="233.50" y2="676.90" stroke="#2a2a2a" stroke-width="1.2"/>
<line x1="210.40" y1="668.80" x2="225.90" y2="668.80" stroke="#2a2a2a" stroke-width="1.2"/>
<line x1="210.40" y1="685.40" x2="225.90" y2="685.40" stroke="#2a2a2a" stroke-width="1.2"/>
<line x1="218.00" y1="668.80" x2="218.00" y2="685.40" stroke="#2a2a2a" stroke-width="1.1"/>
<text x="106.90" y="609.20" font-size="8.6" fill="#111" stroke="#111" stroke-width="0.22" font-style="italic" textLength="31.60" lengthAdjust="spacingAndGlyphs">p = 0.02</text>
<text x="157.30" y="637.60" font-size="8.6" fill="#111" stroke="#111" stroke-width="0.22" font-style="italic" textLength="36.20" lengthAdjust="spacingAndGlyphs">p = 0.001</text>
<text x="203.50" y="656.50" font-size="8.6" fill="#111" stroke="#111" stroke-width="0.22" font-style="italic" textLength="36.20" lengthAdjust="spacingAndGlyphs">p < 0.001</text>
<text x="76.90" y="705.00" font-size="9.5" text-anchor="middle" fill="#111" stroke="#111" stroke-width="0.22" textLength="30.00" lengthAdjust="spacingAndGlyphs">Vehicle</text>
<text x="124.70" y="705.00" font-size="9.5" text-anchor="middle" fill="#111" stroke="#111" stroke-width="0.22" textLength="19.50" lengthAdjust="spacingAndGlyphs">RBV</text>
<text x="171.40" y="705.00" font-size="9.5" text-anchor="middle" fill="#111" stroke="#111" stroke-width="0.22" textLength="34.20" lengthAdjust="spacingAndGlyphs">PU-H71</text>
<text x="218.10" y="705.00" font-size="9.5" text-anchor="middle" fill="#111" stroke="#111" stroke-width="0.22" textLength="30.70" lengthAdjust="spacingAndGlyphs">Combo</text>
<text x="286.30" y="578.50" font-size="12.5" fill="#111" stroke="#111" stroke-width="0.22" font-weight="bold">F</text>
<line x1="313.50" y1="590.00" x2="313.50" y2="682.80" stroke="#222" stroke-width="1.1"/>
<line x1="313.50" y1="682.30" x2="461.90" y2="682.30" stroke="#222" stroke-width="1.1"/>
<line x1="311.50" y1="682.30" x2="313.50" y2="682.30" stroke="#222" stroke-width="0.8"/>
<text x="311.20" y="685.50" font-size="9" text-anchor="end" fill="#1e1e1e" stroke="#1e1e1e" stroke-width="0.22">0</text>
<line x1="311.50" y1="659.22" x2="313.50" y2="659.22" stroke="#222" stroke-width="0.8"/>
<text x="311.20" y="662.42" font-size="9" text-anchor="end" fill="#1e1e1e" stroke="#1e1e1e" stroke-width="0.22">10</text>
<line x1="311.50" y1="636.14" x2="313.50" y2="636.14" stroke="#222" stroke-width="0.8"/>
<text x="311.20" y="639.34" font-size="9" text-anchor="end" fill="#1e1e1e" stroke="#1e1e1e" stroke-width="0.22">20</text>
<line x1="311.50" y1="613.06" x2="313.50" y2="613.06" stroke="#222" stroke-width="0.8"/>
<text x="311.20" y="616.26" font-size="9" text-anchor="end" fill="#1e1e1e" stroke="#1e1e1e" stroke-width="0.22">30</text>
<line x1="311.50" y1="589.98" x2="313.50" y2="589.98" stroke="#222" stroke-width="0.8"/>
<text x="311.20" y="593.18" font-size="9" text-anchor="end" fill="#1e1e1e" stroke="#1e1e1e" stroke-width="0.22">40</text>
<text x="290.60" y="633.60" font-size="9.1" text-anchor="middle" fill="#111" stroke="#111" stroke-width="0.22" textLength="42.00" lengthAdjust="spacingAndGlyphs" transform="rotate(-90 290.60 633.60)">Weight (g)</text>
<line x1="332.15" y1="607.80" x2="332.15" y2="611.90" stroke="#333" stroke-width="1.1"/>
<line x1="325.00" y1="607.80" x2="338.80" y2="607.80" stroke="#333" stroke-width="1.1"/>
<rect x="319.70" y="611.90" width="24.90" height="70.40" fill="#787878"/>
<line x1="332.15" y1="682.30" x2="332.15" y2="684.30" stroke="#222" stroke-width="0.8"/>
<line x1="369.40" y1="602.20" x2="369.40" y2="609.60" stroke="#333" stroke-width="1.1"/>
<line x1="362.60" y1="602.20" x2="375.80" y2="602.20" stroke="#333" stroke-width="1.1"/>
<rect x="357.30" y="609.60" width="24.20" height="72.70" fill="#7b7bf5"/>
<line x1="369.40" y1="682.30" x2="369.40" y2="684.30" stroke="#222" stroke-width="0.8"/>
<line x1="406.55" y1="602.20" x2="406.55" y2="609.60" stroke="#333" stroke-width="1.1"/>
<line x1="400.30" y1="602.20" x2="412.80" y2="602.20" stroke="#333" stroke-width="1.1"/>
<rect x="394.30" y="609.60" width="24.50" height="72.70" fill="#e8922a"/>
<line x1="406.55" y1="682.30" x2="406.55" y2="684.30" stroke="#222" stroke-width="0.8"/>
<line x1="443.45" y1="608.90" x2="443.45" y2="611.20" stroke="#333" stroke-width="1.1"/>
<line x1="437.20" y1="608.90" x2="449.70" y2="608.90" stroke="#333" stroke-width="1.1"/>
<rect x="431.20" y="611.20" width="24.50" height="71.10" fill="#7b2590"/>
<line x1="443.45" y1="682.30" x2="443.45" y2="684.30" stroke="#222" stroke-width="0.8"/>
<text x="332.30" y="693.40" font-size="9" text-anchor="middle" fill="#111" stroke="#111" stroke-width="0.22" textLength="28.40" lengthAdjust="spacingAndGlyphs">Control</text>
<text x="369.40" y="693.40" font-size="9" text-anchor="middle" fill="#111" stroke="#111" stroke-width="0.22" textLength="31.20" lengthAdjust="spacingAndGlyphs">PU-H71</text>
<text x="406.90" y="693.40" font-size="9" text-anchor="middle" fill="#111" stroke="#111" stroke-width="0.22" textLength="17.80" lengthAdjust="spacingAndGlyphs">RBV</text>
<text x="443.50" y="693.40" font-size="9" text-anchor="middle" fill="#111" stroke="#111" stroke-width="0.22" textLength="27.70" lengthAdjust="spacingAndGlyphs">Combo</text>
</g>
</svg></body></html>
